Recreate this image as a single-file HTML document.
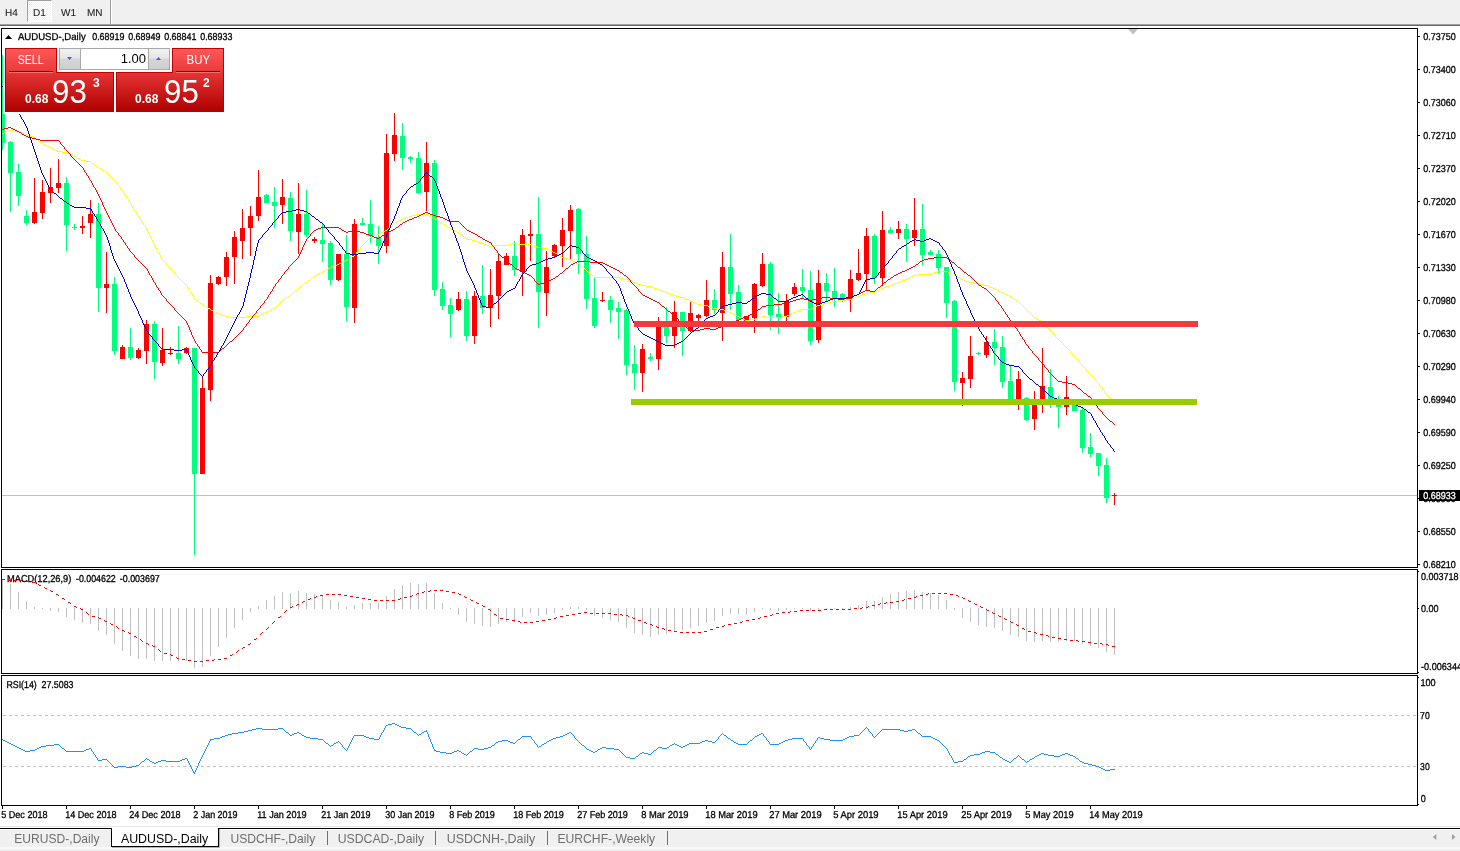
<!DOCTYPE html>
<html lang="en"><head><meta charset="utf-8"><title>AUDUSD-,Daily</title>
<style>
html,body{margin:0;padding:0;background:#fff;}
body{width:1460px;height:851px;overflow:hidden;position:relative;font-family:"Liberation Sans",sans-serif;}
#tb{position:absolute;left:0;top:0;width:1460px;height:24px;background:#f0f0f0;}
#tb .l1{position:absolute;left:0;top:24px;width:1460px;height:1px;background:#a0a0a0;}
#tb .l2{position:absolute;left:0;top:25px;width:1460px;height:1px;background:#696969;}
#tb span{position:absolute;top:8px;font-size:10px;line-height:12px;text-rendering:geometricPrecision;color:#1c1c1c;-webkit-text-stroke:0.08px #1c1c1c;}
#tb .sel{position:absolute;left:27px;top:0;width:25px;height:22px;box-sizing:border-box;border-top:1px solid #a0a0a0;border-left:1px solid #a0a0a0;border-right:1px solid #fff;border-bottom:1px solid #fff;background:repeating-conic-gradient(#ffffff 0% 25%,#f0f0f0 0% 50%) 0 0/2px 2px;}
#tb .sep{position:absolute;left:110px;top:0;width:1px;height:24px;background:#a0a0a0;border-right:1px solid #fff;}
#oc{position:absolute;left:5px;top:48px;width:219px;height:64px;}
#ocbg{position:absolute;left:3px;top:46px;width:223px;height:68px;background:#fff;}
#oc .tab{position:absolute;top:0;width:52px;height:25px;box-sizing:border-box;border:1px solid #c00000;border-bottom:none;background:linear-gradient(#ff5858,#e83838);color:#fff;font-size:12px;line-height:22px;text-align:center;}
#oc .tab i{position:absolute;left:3px;right:3px;bottom:0;height:1px;background:#7c0000;border-bottom:1px solid #f07070;}
#oc .tab em{display:inline-block;font-style:normal;transform:scaleX(0.88);}
#oc .pr{position:absolute;top:24px;height:40px;box-sizing:border-box;border:1px solid #b80000;border-top-color:#c00000;background:linear-gradient(#e43434,#b00000);color:#fff;}
#oc .pr b{position:absolute;font-size:12px;line-height:12px;font-weight:bold;}
#oc .pr .big{position:absolute;font-size:34px;line-height:34px;transform:scaleX(0.92);transform-origin:0 0;}
#oc .sp{position:absolute;left:54px;top:0;width:111px;height:22px;box-sizing:border-box;border:1px solid #a8a8a8;background:#fff;}
#oc .sp .bt{position:absolute;top:0;width:21px;height:20px;background:linear-gradient(#f2f2f2 0%,#e6e6e6 45%,#d6d6d6 50%,#cecece 100%);box-sizing:border-box;}
#oc .sp .v{position:absolute;right:23px;top:2px;font-size:13px;line-height:16px;color:#000;}
#bt{position:absolute;left:0;top:826px;width:1460px;height:25px;background:#f0f0f0;}
#bt .g0{position:absolute;left:0;top:0;width:1460px;height:1px;background:#e6e6e6;}
#bt .g1{position:absolute;left:0;top:1px;width:1460px;height:1px;background:#fff;}
#bt .bl{position:absolute;left:0;top:2px;width:1460px;height:1px;background:#000;}
#bt .hl{position:absolute;left:0;top:3px;width:1460px;height:1px;background:#fff;}
#bt .wl{position:absolute;left:0;top:21px;width:1460px;height:2px;background:#fafafa;}
#bt span{position:absolute;top:5px;font-size:12.5px;line-height:16px;color:#6e6e6e;white-space:nowrap;transform-origin:0 0;}
#bt .act{position:absolute;left:111px;top:2px;width:108px;height:19px;box-sizing:border-box;background:#fff;border:1px solid #000;border-top:none;box-shadow:1px 1px 0 #b4b4b4;}
#bt .sp{position:absolute;top:5px;width:1px;height:14px;background:#707070;}
</style></head><body>
<div id="tb"><div class="sel"></div><span style="left:5px">H4</span><span style="left:33px">D1</span><span style="left:61px">W1</span><span style="left:87px">MN</span><div class="sep"></div><div class="l1"></div><div class="l2"></div></div>
<svg width="1460" height="851" viewBox="0 0 1460 851" style="position:absolute;left:0;top:0" shape-rendering="crispEdges" font-family="'Liberation Sans', sans-serif" font-size="10px" fill="#000">
<svg x="2" y="29" width="1415" height="538" viewBox="2 29 1415 538" overflow="hidden">
<rect x="2" y="495" width="1415" height="1" fill="#c0c0c0"/>
<path fill="#00ff7f" d="M2 55h1v95h-1zM0 114h5v29h-5zM10 141h1v71h-1zM8 142h5v31h-5zM18 164h1v42h-1zM16 172h5v24h-5zM26 210h1v15h-1zM24 216h5v7h-5zM66 177h1v74h-1zM64 183h5v42h-5zM74 224h1v6h-1zM72 227h5v1h-5zM98 203h1v109h-1zM96 214h5v74h-5zM114 277h1v78h-1zM112 284h5v67h-5zM130 328h1v32h-1zM128 347h5v11h-5zM154 321h1v58h-1zM152 324h5v38h-5zM178 326h1v38h-1zM176 353h5v6h-5zM194 348h1v207h-1zM192 348h5v126h-5zM266 194h1v9h-1zM264 195h5v8h-5zM274 187h1v41h-1zM272 202h5v4h-5zM290 192h1v49h-1zM288 198h5v33h-5zM306 190h1v47h-1zM304 214h5v21h-5zM322 223h1v39h-1zM320 240h5v4h-5zM330 241h1v44h-1zM328 243h5v37h-5zM346 235h1v86h-1zM344 254h5v53h-5zM362 218h1v8h-1zM360 223h5v2h-5zM370 200h1v43h-1zM368 224h5v12h-5zM378 226h1v38h-1zM376 237h5v9h-5zM402 123h1v47h-1zM400 136h5v22h-5zM410 156h1v7h-1zM408 157h5v2h-5zM418 152h1v42h-1zM416 158h5v35h-5zM434 160h1v136h-1zM432 163h5v127h-5zM442 282h1v28h-1zM440 289h5v17h-5zM450 298h1v39h-1zM448 305h5v9h-5zM466 291h1v50h-1zM464 299h5v37h-5zM482 265h1v49h-1zM480 296h5v12h-5zM514 241h1v35h-1zM512 256h5v14h-5zM538 197h1v131h-1zM536 234h5v58h-5zM578 208h1v66h-1zM576 209h5v45h-5zM586 236h1v73h-1zM584 254h5v45h-5zM594 278h1v50h-1zM592 298h5v28h-5zM610 296h1v27h-1zM608 300h5v10h-5zM618 302h1v37h-1zM616 308h5v4h-5zM626 309h1v66h-1zM624 310h5v55h-5zM634 345h1v45h-1zM632 364h5v9h-5zM650 353h1v8h-1zM648 357h5v2h-5zM666 307h1v36h-1zM664 322h5v14h-5zM682 312h1v44h-1zM680 312h5v19h-5zM714 289h1v25h-1zM712 300h5v10h-5zM730 234h1v76h-1zM728 267h5v27h-5zM738 285h1v36h-1zM736 292h5v28h-5zM770 262h1v68h-1zM768 264h5v51h-5zM778 293h1v41h-1zM776 314h5v4h-5zM802 269h1v30h-1zM800 287h5v4h-5zM810 271h1v74h-1zM808 290h5v51h-5zM826 273h1v28h-1zM824 283h5v8h-5zM834 268h1v39h-1zM832 291h5v7h-5zM842 293h1v9h-1zM840 294h5v6h-5zM874 234h1v50h-1zM872 236h5v42h-5zM890 227h1v7h-1zM888 230h5v3h-5zM906 224h1v38h-1zM904 229h5v10h-5zM922 204h1v61h-1zM920 229h5v26h-5zM930 250h1v5h-1zM928 252h5v3h-5zM938 250h1v23h-1zM936 254h5v14h-5zM946 267h1v51h-1zM944 267h5v36h-5zM954 300h1v91h-1zM952 301h5v81h-5zM978 352h1v3h-1zM976 353h5v1h-5zM994 329h1v36h-1zM992 342h5v6h-5zM1002 336h1v52h-1zM1000 347h5v35h-5zM1010 366h1v35h-1zM1008 381h5v20h-5zM1026 397h1v24h-1zM1024 398h5v22h-5zM1050 369h1v39h-1zM1048 387h5v14h-5zM1058 396h1v32h-1zM1056 400h5v7h-5zM1074 403h1v8h-1zM1072 403h5v8h-5zM1082 407h1v46h-1zM1080 410h5v38h-5zM1090 433h1v24h-1zM1088 447h5v7h-5zM1098 453h1v23h-1zM1096 453h5v13h-5zM1106 458h1v45h-1zM1104 465h5v33h-5z"/>
<path fill="#ff0000" d="M34 178h1v46h-1zM32 212h5v11h-5zM42 180h1v39h-1zM40 192h5v21h-5zM50 168h1v35h-1zM48 187h5v6h-5zM58 159h1v34h-1zM56 183h5v5h-5zM82 216h1v18h-1zM80 226h5v2h-5zM90 200h1v38h-1zM88 214h5v9h-5zM106 252h1v61h-1zM104 284h5v4h-5zM122 345h1v14h-1zM120 347h5v12h-5zM138 348h1v11h-1zM136 350h5v8h-5zM146 320h1v44h-1zM144 324h5v27h-5zM162 328h1v38h-1zM160 350h5v13h-5zM170 347h1v8h-1zM168 353h5v1h-5zM186 347h1v7h-1zM184 348h5v5h-5zM202 376h1v98h-1zM200 388h5v86h-5zM210 275h1v126h-1zM208 283h5v107h-5zM218 276h1v9h-1zM216 277h5v7h-5zM226 252h1v34h-1zM224 257h5v20h-5zM234 231h1v53h-1zM232 237h5v20h-5zM242 209h1v50h-1zM240 228h5v13h-5zM250 206h1v50h-1zM248 216h5v12h-5zM258 170h1v51h-1zM256 197h5v19h-5zM282 179h1v45h-1zM280 197h5v8h-5zM298 183h1v71h-1zM296 214h5v18h-5zM314 237h1v6h-1zM312 239h5v2h-5zM338 254h1v27h-1zM336 254h5v26h-5zM354 219h1v104h-1zM352 224h5v84h-5zM386 134h1v119h-1zM384 153h5v93h-5zM394 113h1v48h-1zM392 135h5v19h-5zM426 142h1v69h-1zM424 163h5v29h-5zM458 292h1v19h-1zM456 299h5v11h-5zM474 291h1v53h-1zM472 296h5v40h-5zM490 269h1v58h-1zM488 295h5v13h-5zM498 253h1v66h-1zM496 261h5v35h-5zM506 253h1v12h-1zM504 256h5v9h-5zM522 229h1v67h-1zM520 235h5v37h-5zM530 220h1v41h-1zM528 234h5v2h-5zM546 251h1v65h-1zM544 267h5v26h-5zM554 244h1v13h-1zM552 245h5v11h-5zM562 218h1v49h-1zM560 230h5v16h-5zM570 205h1v54h-1zM568 210h5v21h-5zM602 292h1v10h-1zM600 300h5v1h-5zM642 344h1v48h-1zM640 349h5v24h-5zM658 317h1v53h-1zM656 326h5v33h-5zM674 301h1v47h-1zM672 312h5v24h-5zM690 302h1v30h-1zM688 313h5v18h-5zM698 314h1v7h-1zM696 315h5v3h-5zM706 280h1v37h-1zM704 300h5v16h-5zM722 252h1v89h-1zM720 267h5v46h-5zM746 316h1v5h-1zM744 316h5v5h-5zM754 283h1v50h-1zM752 284h5v34h-5zM762 253h1v34h-1zM760 264h5v22h-5zM786 294h1v28h-1zM784 301h5v16h-5zM794 283h1v13h-1zM792 287h5v7h-5zM818 270h1v73h-1zM816 283h5v57h-5zM850 270h1v42h-1zM848 279h5v20h-5zM858 249h1v32h-1zM856 273h5v7h-5zM866 228h1v63h-1zM864 236h5v38h-5zM882 211h1v75h-1zM880 230h5v48h-5zM898 221h1v18h-1zM896 229h5v4h-5zM914 198h1v48h-1zM912 230h5v8h-5zM962 372h1v34h-1zM960 378h5v5h-5zM970 336h1v52h-1zM968 356h5v23h-5zM986 336h1v22h-1zM984 342h5v13h-5zM1018 371h1v39h-1zM1016 379h5v22h-5zM1034 391h1v39h-1zM1032 403h5v16h-5zM1042 348h1v65h-1zM1040 386h5v15h-5zM1066 376h1v39h-1zM1064 397h5v10h-5zM1114 493h1v12h-1zM1112 495h5v1h-5z"/>
<path fill="#ffff00" d="m2 133h2v1h-2zm2-1h2v1h-2zm2-1h3v1h-3zm3-1h5v1h-5zm5 1h6v1h-6zm6 1h2v1h-2zm2 1h3v1h-3zm3 1h3v1h-3zm3 1h2v1h-2zm2 1h3v1h-3zm3 1h2v1h-2zm2 1h1v1h-1zm1 1h2v1h-2zm2 1h1v1h-1zm1 1h1v1h-1zm1 1h2v1h-2zm2 1h1v1h-1zm1 1h2v1h-2zm2 1h2v1h-2zm2 1h2v1h-2zm2 1h2v1h-2zm2 1h2v1h-2zm2 1h2v1h-2zm2 1h2v1h-2zm2 1h5v1h-5zm5 1h5v1h-5zm5 1h2v1h-2zm2 1h2v1h-2zm2 1h2v1h-2zm2 1h2v1h-2zm2 1h2v1h-2zm2 1h2v1h-2zm2 1h2v1h-2zm2 1h5v1h-5zm5 1h5v1h-5zm5 1h1v1h-1zm1 1h2v1h-2zm2 1h1v1h-1zm1 1h1v1h-1zm1 1h2v1h-2zm2 1h1v1h-1zm1 1h2v1h-2zm2 1h1v1h-1zm1 1h2v1h-2zm2 1h2v1h-2zm2 1h1v1h-1zm1 1h1v1h-1zm1 1h1v1h-1zm1 1h1v1h-1zm1 1h1v1h-1zm1 1h1v1h-1zm1 1h1v1h-1zm1 1h1v1h-1zm1 1h1v1h-1zm1 1h1v1h-1zm1 1h1v2h-1zm1 2h1v1h-1zm1 1h1v1h-1zm1 1h1v1h-1zm1 1h1v2h-1zm1 2h1v1h-1zm1 1h1v1h-1zm1 1h1v2h-1zm1 2h1v2h-1zm1 2h1v1h-1zm1 1h1v2h-1zm1 2h1v1h-1zm1 1h1v2h-1zm1 2h1v2h-1zm1 2h1v1h-1zm1 1h1v2h-1zm1 2h1v2h-1zm1 2h1v1h-1zm1 1h1v2h-1zm1 2h1v1h-1zm1 1h1v2h-1zm1 2h1v2h-1zm1 2h1v1h-1zm1 1h1v2h-1zm1 2h1v1h-1zm1 1h1v2h-1zm1 2h1v1h-1zm1 1h1v2h-1zm1 2h1v1h-1zm1 1h1v2h-1zm1 2h1v2h-1zm1 2h1v2h-1zm1 2h1v2h-1zm1 2h1v2h-1zm1 2h1v2h-1zm1 2h1v2h-1zm1 2h1v2h-1zm1 2h1v2h-1zm1 2h1v2h-1zm1 2h1v2h-1zm1 2h1v2h-1zm1 2h1v2h-1zm1 2h1v1h-1zm1 1h1v2h-1zm1 2h1v2h-1zm1 2h1v2h-1zm1 2h1v1h-1zm1 1h1v1h-1zm1 1h1v1h-1zm1 1h1v1h-1zm1 1h1v2h-1zm1 2h1v1h-1zm1 1h1v1h-1zm1 1h1v1h-1zm1 1h1v1h-1zm1 1h1v1h-1zm1 1h1v1h-1zm1 1h1v1h-1zm1 1h1v2h-1zm1 2h1v1h-1zm1 1h1v1h-1zm1 1h1v1h-1zm1 1h1v1h-1zm1 1h1v1h-1zm1 1h1v1h-1zm1 1h1v1h-1zm1 1h1v1h-1zm1 1h1v1h-1zm1 1h1v1h-1zm1 1h1v1h-1zm1 1h1v1h-1zm1 1h1v2h-1zm1 2h1v2h-1zm1 2h1v1h-1zm1 1h1v2h-1zm1 2h1v1h-1zm1 1h1v2h-1zm1 2h1v2h-1zm1 2h1v1h-1zm1 1h1v1h-1zm1 1h2v1h-2zm2 1h1v1h-1zm1 1h1v1h-1zm1 1h2v1h-2zm2 1h1v1h-1zm1 1h2v1h-2zm2 1h1v1h-1zm1 1h2v1h-2zm2 1h2v1h-2zm2 1h1v1h-1zm1 1h2v1h-2zm2 1h2v1h-2zm2 1h2v1h-2zm2 1h3v1h-3zm3 1h2v1h-2zm2 1h3v1h-3zm3 1h5v1h-5zm5 1h16v1h-16zm16-1h13v1h-13zm13-1h2v1h-2zm2-1h2v1h-2zm2-1h2v1h-2zm2-1h2v1h-2zm2-1h2v1h-2zm2-1h2v1h-2zm2-1h2v1h-2zm2-1h2v1h-2zm2-1h1v1h-1zm1-1h1v1h-1zm1-1h1v1h-1zm1-1h1v1h-1zm1-1h1v1h-1zm1-1h1v1h-1zm1-1h1v1h-1zm1-1h1v1h-1zm1-1h2v1h-2zm2-1h1v1h-1zm1-1h2v1h-2zm2-1h2v1h-2zm2-1h1v1h-1zm1-1h1v1h-1zm1-1h1v1h-1zm1-1h1v1h-1zm1-1h2v1h-2zm2-1h1v1h-1zm1-1h1v1h-1zm1-1h1v1h-1zm1-1h1v1h-1zm1-1h2v1h-2zm2-1h1v1h-1zm1-1h1v1h-1zm1-1h2v1h-2zm2-1h1v1h-1zm1-1h1v1h-1zm1-1h2v1h-2zm2-1h1v1h-1zm1-1h1v1h-1zm1-1h2v1h-2zm2-1h1v1h-1zm1-1h2v1h-2zm2-1h2v1h-2zm2-1h2v1h-2zm2-1h2v1h-2zm2-1h2v1h-2zm2-1h1v1h-1zm1-1h2v1h-2zm2-1h2v1h-2zm2-1h2v1h-2zm2-1h2v1h-2zm2-1h3v1h-3zm3-1h2v1h-2zm2-1h2v1h-2zm2-1h2v1h-2zm2-1h2v1h-2zm2-1h2v1h-2zm2-1h2v1h-2zm2-1h1v1h-1zm1-1h2v1h-2zm2-1h2v1h-2zm2-1h1v1h-1zm1-1h1v1h-1zm1-2h1v2h-1zm1-1h1v1h-1zm1-1h1v1h-1zm1-1h1v1h-1zm1-2h1v2h-1zm1-1h1v1h-1zm1-1h1v1h-1zm1-1h1v1h-1zm1-1h1v1h-1zm1-1h1v1h-1zm1-1h1v1h-1zm1-1h1v1h-1zm1-1h1v1h-1zm1-1h1v1h-1zm1-1h2v1h-2zm2-1h2v1h-2zm2-1h3v1h-3zm3-1h2v1h-2zm2-1h2v1h-2zm2-1h2v1h-2zm2-1h2v1h-2zm2-1h2v1h-2zm2-1h1v1h-1zm1-1h1v1h-1zm1-1h1v1h-1zm1-1h2v1h-2zm2-1h1v1h-1zm1-1h1v1h-1zm1-1h1v1h-1zm1-1h2v1h-2zm2-1h2v1h-2zm2-1h2v1h-2zm2-1h3v1h-3zm3-1h2v1h-2zm2-1h3v1h-3zm3-1h3v1h-3zm3-1h4v1h-4zm4-1h11v1h-11zm11 1h2v1h-2zm2 1h2v1h-2zm2 1h2v1h-2zm2 1h2v1h-2zm2 1h2v1h-2zm2 1h1v1h-1zm1 1h2v1h-2zm2 1h2v1h-2zm2 1h1v1h-1zm1 1h2v1h-2zm2 1h1v1h-1zm1 1h2v1h-2zm2 1h2v1h-2zm2 1h1v1h-1zm1 1h2v1h-2zm2 1h2v1h-2zm2 1h2v1h-2zm2 1h2v1h-2zm2 1h1v1h-1zm1 1h2v1h-2zm2 1h1v1h-1zm1 1h1v1h-1zm1 1h2v1h-2zm2 1h2v1h-2zm2 1h4v1h-4zm4 1h4v1h-4zm4 1h2v1h-2zm2 1h3v1h-3zm3 1h3v1h-3zm3 1h2v1h-2zm2 1h3v1h-3zm3 1h5v1h-5zm5-1h14v1h-14zm14-1h4v1h-4zm4-1h6v1h-6zm6 1h14v1h-14zm14 1h2v1h-2zm2 1h3v1h-3zm3 1h5v1h-5zm5 1h5v1h-5zm5 1h2v1h-2zm2 1h2v1h-2zm2 1h2v1h-2zm2 1h2v1h-2zm2 1h2v1h-2zm2 1h1v1h-1zm1 1h2v1h-2zm2 1h2v1h-2zm2 1h2v1h-2zm2 1h4v1h-4zm4 1h3v1h-3zm3 1h2v1h-2zm2 1h2v1h-2zm2 1h2v1h-2zm2 1h2v1h-2zm2 1h1v1h-1zm1 1h1v1h-1zm1 1h1v1h-1zm1 1h2v1h-2zm2 1h1v1h-1zm1 1h1v1h-1zm1 1h1v1h-1zm1 1h1v1h-1zm1 1h1v1h-1zm1 1h1v1h-1zm1 1h2v1h-2zm2 1h1v1h-1zm1 1h1v1h-1zm1 1h26v1h-26zm26 1h4v1h-4zm4 1h4v1h-4zm4 1h2v1h-2zm2 1h3v1h-3zm3 1h3v1h-3zm3 1h2v1h-2zm2 1h3v1h-3zm3 1h5v1h-5zm5 1h6v1h-6zm6 1h2v1h-2zm2 1h3v1h-3zm3 1h3v1h-3zm3 1h2v1h-2zm2 1h3v1h-3zm3 1h3v1h-3zm3 1h2v1h-2zm2 1h3v1h-3zm3 1h3v1h-3zm3 1h4v1h-4zm4 1h4v1h-4zm4 1h2v1h-2zm2 1h3v1h-3zm3 1h2v1h-2zm2 1h2v1h-2zm2 1h2v1h-2zm2 1h2v1h-2zm2 1h5v1h-5zm5 1h6v1h-6zm6 1h2v1h-2zm2 1h3v1h-3zm3 1h5v1h-5zm5 1h6v1h-6zm6 1h2v1h-2zm2 1h3v1h-3zm3 1h2v1h-2zm2 1h2v1h-2zm2 1h2v1h-2zm2 1h2v1h-2zm2 1h2v1h-2zm2 1h2v1h-2zm2 1h2v1h-2zm2 1h2v1h-2zm2 1h5v1h-5zm5-1h6v1h-6zm6-1h2v1h-2zm2-1h3v1h-3zm3-1h5v1h-5zm5 1h16v1h-16zm16-1h5v1h-5zm5-1h2v1h-2zm2-1h2v1h-2zm2-1h2v1h-2zm2-1h3v1h-3zm3-1h2v1h-2zm2-1h3v1h-3zm3-1h10v1h-10zm10-1h2v1h-2zm2-1h2v1h-2zm2-1h2v1h-2zm2-1h3v1h-3zm3-1h4v1h-4zm4-1h4v1h-4zm4-1h4v1h-4zm4-1h6v1h-6zm6-1h8v1h-8zm8-1h6v1h-6zm6-1h2v1h-2zm2-1h3v1h-3zm3-1h3v1h-3zm3-1h2v1h-2zm2-1h3v1h-3zm3-1h5v1h-5zm5-1h5v1h-5zm5-1h2v1h-2zm2-1h2v1h-2zm2-1h2v1h-2zm2-1h3v1h-3zm3-1h2v1h-2zm2-1h3v1h-3zm3-1h3v1h-3zm3-1h2v1h-2zm2-1h3v1h-3zm3-1h3v1h-3zm3-1h2v1h-2zm2-1h3v1h-3zm3-1h2v1h-2zm2-1h2v1h-2zm2-1h2v1h-2zm2-1h2v1h-2zm2-1h5v1h-5zm5-1h14v1h-14zm14-1h2v1h-2zm2-1h3v1h-3zm3-1h11v1h-11zm11 1h2v1h-2zm2 1h3v1h-3zm3 1h2v1h-2zm2 1h2v1h-2zm2 1h1v1h-1zm1 1h2v1h-2zm2 1h2v1h-2zm2 1h2v1h-2zm2 1h2v1h-2zm2 1h3v1h-3zm3 1h5v1h-5zm5 1h6v1h-6zm6 1h4v1h-4zm4 1h4v1h-4zm4 1h2v1h-2zm2 1h3v1h-3zm3 1h2v1h-2zm2 1h2v1h-2zm2 1h2v1h-2zm2 1h2v1h-2zm2 1h2v1h-2zm2 1h2v1h-2zm2 1h2v1h-2zm2 1h2v1h-2zm2 1h2v1h-2zm2 1h2v1h-2zm2 1h1v1h-1zm1 1h2v1h-2zm2 1h2v1h-2zm2 1h1v1h-1zm1 1h1v1h-1zm1 1h1v1h-1zm1 1h1v1h-1zm1 1h1v1h-1zm1 1h1v1h-1zm1 1h1v1h-1zm1 1h1v1h-1zm1 1h1v1h-1zm1 1h1v1h-1zm1 1h1v1h-1zm1 1h1v1h-1zm1 1h1v1h-1zm1 1h1v1h-1zm1 1h1v1h-1zm1 1h1v1h-1zm1 1h1v1h-1zm1 1h2v1h-2zm2 1h2v1h-2zm2 1h2v1h-2zm2 1h2v1h-2zm2 1h1v1h-1zm1 1h1v1h-1zm1 1h1v1h-1zm1 1h1v2h-1zm1 2h1v1h-1zm1 1h1v1h-1zm1 1h1v1h-1zm1 1h1v1h-1zm1 1h1v1h-1zm1 1h1v1h-1zm1 1h1v1h-1zm1 1h1v2h-1zm1 2h1v1h-1zm1 1h1v1h-1zm1 1h1v1h-1zm1 1h1v1h-1zm1 1h1v1h-1zm1 1h1v1h-1zm1 1h1v1h-1zm1 1h1v1h-1zm1 1h1v1h-1zm1 1h1v1h-1zm1 1h1v1h-1zm1 1h1v1h-1zm1 1h1v1h-1zm1 1h1v1h-1zm1 1h1v1h-1zm1 1h1v2h-1zm1 2h1v1h-1zm1 1h1v1h-1zm1 1h1v1h-1zm1 1h1v1h-1zm1 1h1v1h-1zm1 1h1v1h-1zm1 1h1v1h-1zm1 1h1v2h-1zm1 2h1v1h-1zm1 1h1v1h-1zm1 1h1v1h-1zm1 1h1v1h-1zm1 1h1v1h-1zm1 1h1v1h-1zm1 1h1v1h-1zm1 1h1v2h-1zm1 2h1v1h-1zm1 1h1v1h-1zm1 1h1v1h-1zm1 1h1v1h-1zm1 1h1v1h-1zm1 1h1v1h-1zm1 1h1v1h-1zm1 1h1v2h-1zm1 2h1v1h-1zm1 1h1v1h-1zm1 1h1v1h-1zm1 1h1v1h-1zm1 1h1v2h-1zm1 2h1v1h-1zm1 1h1v1h-1zm1 1h1v2h-1zm1 2h1v1h-1zm1 1h1v1h-1zm1 1h1v2h-1zm1 2h1v1h-1zm1 1h1v1h-1zm1 1h1v1h-1zm1 1h1v1h-1zm1 1h1v2h-1zm1 2h1v1h-1zm1 1h1v1h-1zm1 1h1v1h-1zm1 1h1v1h-1z"/>
<path fill="#ff0000" d="m2 129h2v1h-2zm2-1h4v1h-4zm4-1h3v1h-3zm3 1h2v1h-2zm2 1h2v1h-2zm2 1h2v1h-2zm2 1h2v1h-2zm2 1h2v1h-2zm2 1h1v1h-1zm1 1h2v1h-2zm2 1h2v1h-2zm2 1h2v1h-2zm2 1h4v1h-4zm4 1h4v1h-4zm4 1h4v1h-4zm4 1h19v1h-19zm19 1h1v1h-1zm1 1h1v2h-1zm1 2h1v1h-1zm1 1h1v1h-1zm1 1h1v1h-1zm1 1h1v2h-1zm1 2h1v1h-1zm1 1h1v1h-1zm1 1h1v1h-1zm1 1h1v1h-1zm1 1h1v1h-1zm1 1h1v2h-1zm1 2h1v1h-1zm1 1h1v1h-1zm1 1h1v1h-1zm1 1h1v1h-1zm1 1h1v1h-1zm1 1h1v1h-1zm1 1h1v1h-1zm1 1h1v1h-1zm1 1h1v1h-1zm1 1h1v1h-1zm1 1h1v1h-1zm1 1h1v1h-1zm1 1h1v2h-1zm1 2h1v2h-1zm1 2h1v1h-1zm1 1h1v2h-1zm1 2h1v1h-1zm1 1h1v2h-1zm1 2h1v2h-1zm1 2h1v1h-1zm1 1h1v2h-1zm1 2h1v2h-1zm1 2h1v2h-1zm1 2h1v1h-1zm1 1h1v2h-1zm1 2h1v2h-1zm1 2h1v2h-1zm1 2h1v2h-1zm1 2h1v2h-1zm1 2h1v2h-1zm1 2h1v2h-1zm1 2h1v3h-1zm1 3h1v2h-1zm1 2h1v2h-1zm1 2h1v2h-1zm1 2h1v2h-1zm1 2h1v2h-1zm1 2h1v2h-1zm1 2h1v2h-1zm1 2h1v2h-1zm1 2h1v2h-1zm1 2h1v2h-1zm1 2h1v2h-1zm1 2h1v2h-1zm1 2h1v2h-1zm1 2h1v1h-1zm1 1h1v1h-1zm1 1h1v2h-1zm1 2h1v1h-1zm1 1h1v1h-1zm1 1h1v2h-1zm1 2h1v1h-1zm1 1h1v2h-1zm1 2h1v1h-1zm1 1h1v2h-1zm1 2h1v1h-1zm1 1h1v2h-1zm1 2h1v1h-1zm1 1h1v2h-1zm1 2h1v1h-1zm1 1h1v1h-1zm1 1h1v1h-1zm1 1h1v1h-1zm1 1h1v2h-1zm1 2h1v1h-1zm1 1h1v1h-1zm1 1h1v1h-1zm1 1h1v1h-1zm1 1h1v1h-1zm1 1h1v1h-1zm1 1h1v1h-1zm1 1h1v1h-1zm1 1h1v1h-1zm1 1h1v1h-1zm1 1h1v1h-1zm1 1h1v1h-1zm1 1h1v2h-1zm1 2h1v2h-1zm1 2h1v2h-1zm1 2h1v1h-1zm1 1h1v2h-1zm1 2h1v2h-1zm1 2h1v2h-1zm1 2h1v1h-1zm1 1h1v2h-1zm1 2h1v2h-1zm1 2h1v1h-1zm1 1h1v2h-1zm1 2h1v1h-1zm1 1h1v2h-1zm1 2h1v2h-1zm1 2h1v1h-1zm1 1h1v1h-1zm1 1h1v1h-1zm1 1h1v1h-1zm1 1h1v2h-1zm1 2h1v1h-1zm1 1h1v1h-1zm1 1h1v1h-1zm1 1h1v1h-1zm1 1h1v1h-1zm1 1h1v1h-1zm1 1h1v1h-1zm1 1h1v2h-1zm1 2h1v1h-1zm1 1h1v1h-1zm1 1h1v1h-1zm1 1h1v1h-1zm1 1h1v1h-1zm1 1h1v1h-1zm1 1h1v1h-1zm1 1h1v1h-1zm1 1h1v1h-1zm1 1h1v1h-1zm1 1h1v1h-1zm1 1h1v2h-1zm1 2h1v2h-1zm1 2h1v2h-1zm1 2h1v3h-1zm1 3h1v2h-1zm1 2h1v3h-1zm1 3h1v2h-1zm1 2h1v2h-1zm1 2h1v2h-1zm1 2h1v2h-1zm1 2h1v1h-1zm1 1h1v2h-1zm1 2h1v1h-1zm1 1h1v2h-1zm1 2h1v1h-1zm1 1h1v2h-1zm1 2h17v1h-17zm17-1h1v1h-1zm1-1h1v1h-1zm1-1h1v1h-1zm1-1h2v1h-2zm2-1h1v1h-1zm1-1h1v1h-1zm1-1h1v1h-1zm1-1h1v1h-1zm1-1h1v1h-1zm1-1h1v1h-1zm1-1h2v1h-2zm2-1h1v1h-1zm1-1h1v1h-1zm1-1h1v1h-1zm1-1h1v1h-1zm1-1h1v1h-1zm1-1h1v1h-1zm1-1h1v1h-1zm1-1h1v1h-1zm1-1h1v1h-1zm1-1h1v1h-1zm1-1h1v1h-1zm1-2h1v2h-1zm1-1h1v1h-1zm1-1h1v1h-1zm1-2h1v2h-1zm1-1h1v1h-1zm1-1h1v1h-1zm1-2h1v2h-1zm1-1h1v1h-1zm1-1h1v1h-1zm1-2h1v2h-1zm1-1h1v1h-1zm1-1h1v1h-1zm1-1h1v1h-1zm1-2h1v2h-1zm1-1h1v1h-1zm1-1h1v1h-1zm1-1h1v1h-1zm1-2h1v2h-1zm1-1h1v1h-1zm1-1h1v1h-1zm1-1h1v1h-1zm1-2h1v2h-1zm1-1h1v1h-1zm1-1h1v1h-1zm1-2h1v2h-1zm1-2h1v2h-1zm1-1h1v1h-1zm1-2h1v2h-1zm1-1h1v1h-1zm1-2h1v2h-1zm1-2h1v2h-1zm1-1h1v1h-1zm1-2h1v2h-1zm1-1h1v1h-1zm1-1h1v1h-1zm1-2h1v2h-1zm1-1h1v1h-1zm1-1h1v1h-1zm1-2h1v2h-1zm1-1h1v1h-1zm1-1h1v1h-1zm1-2h1v2h-1zm1-1h1v1h-1zm1-1h1v1h-1zm1-1h1v1h-1zm1-2h1v2h-1zm1-1h1v1h-1zm1-1h1v1h-1zm1-1h1v1h-1zm1-1h1v1h-1zm1-1h1v1h-1zm1-1h1v1h-1zm1-1h1v1h-1zm1-1h1v1h-1zm1-1h1v1h-1zm1-2h1v2h-1zm1-2h1v2h-1zm1-2h1v2h-1zm1-2h1v2h-1zm1-3h1v3h-1zm1-2h1v2h-1zm1-2h1v2h-1zm1-2h1v2h-1zm1-2h1v2h-1zm1-1h1v1h-1zm1-1h1v1h-1zm1-1h1v1h-1zm1-2h1v2h-1zm1-1h1v1h-1zm1-1h1v1h-1zm1-1h1v1h-1zm1-1h2v1h-2zm2-1h2v1h-2zm2-1h3v1h-3zm3-1h18v1h-18zm18 1h2v1h-2zm2 1h1v1h-1zm1 1h2v1h-2zm2 1h2v1h-2zm2 1h2v1h-2zm2-1h4v1h-4zm4-1h4v1h-4zm4 1h4v1h-4zm4 1h4v1h-4zm4 1h2v1h-2zm2 1h3v1h-3zm3 1h3v1h-3zm3 1h2v1h-2zm2 1h3v1h-3zm3 1h2v1h-2zm2-1h2v1h-2zm2-1h1v1h-1zm1-1h2v1h-2zm2-1h2v1h-2zm2-1h1v1h-1zm1-1h2v1h-2zm2-1h2v1h-2zm2-1h2v1h-2zm2-1h2v1h-2zm2-1h1v1h-1zm1-1h2v1h-2zm2-1h1v1h-1zm1-1h1v1h-1zm1-1h2v1h-2zm2-1h1v1h-1zm1-1h2v1h-2zm2-1h2v1h-2zm2-1h2v1h-2zm2-1h3v1h-3zm3-1h2v1h-2zm2-1h3v1h-3zm3-1h2v1h-2zm2-1h2v1h-2zm2-1h2v1h-2zm2-1h2v1h-2zm2-1h3v1h-3zm3 1h2v1h-2zm2 1h3v1h-3zm3 1h3v1h-3zm3 1h4v1h-4zm4 1h3v1h-3zm3 1h2v1h-2zm2 1h2v1h-2zm2 1h2v1h-2zm2 1h10v1h-10zm10 1h1v1h-1zm1 1h1v1h-1zm1 1h1v1h-1zm1 1h1v1h-1zm1 1h1v1h-1zm1 1h1v1h-1zm1 1h1v1h-1zm1 1h1v1h-1zm1 1h2v1h-2zm2 1h2v1h-2zm2 1h2v1h-2zm2 1h2v1h-2zm2 1h2v1h-2zm2 1h1v1h-1zm1 1h2v1h-2zm2 1h2v1h-2zm2 1h1v1h-1zm1 1h2v1h-2zm2 1h2v1h-2zm2 1h2v1h-2zm2 1h2v1h-2zm2 1h1v2h-1zm1 2h1v1h-1zm1 1h1v1h-1zm1 1h1v2h-1zm1 2h1v1h-1zm1 1h1v1h-1zm1 1h1v2h-1zm1 2h1v1h-1zm1 1h1v1h-1zm1 1h1v1h-1zm1 1h1v1h-1zm1 1h2v1h-2zm2 1h1v1h-1zm1 1h1v1h-1zm1 1h1v1h-1zm1 1h1v1h-1zm1 1h1v1h-1zm1 1h1v1h-1zm1 1h2v1h-2zm2 1h1v1h-1zm1 1h1v1h-1zm1 1h1v1h-1zm1 1h2v1h-2zm2 1h2v1h-2zm2 1h2v1h-2zm2 1h2v1h-2zm2 1h2v1h-2zm2 1h2v1h-2zm2 1h2v1h-2zm2 1h2v1h-2zm2 1h1v1h-1zm1 1h1v1h-1zm1 1h1v1h-1zm1 1h1v2h-1zm1 2h1v1h-1zm1 1h1v1h-1zm1 1h1v1h-1zm1 1h2v1h-2zm2-1h4v1h-4zm4-1h3v1h-3zm3-1h2v1h-2zm2-1h2v1h-2zm2-1h2v1h-2zm2-1h2v1h-2zm2-1h1v1h-1zm1-1h2v1h-2zm2-1h1v1h-1zm1-1h1v1h-1zm1-1h2v1h-2zm2-1h1v1h-1zm1-1h1v1h-1zm1-1h1v1h-1zm1-1h1v1h-1zm1-1h2v1h-2zm2-1h1v1h-1zm1-1h1v1h-1zm1-1h1v1h-1zm1-1h2v1h-2zm2-1h2v1h-2zm2-1h2v1h-2zm2-1h13v1h-13zm13 1h13v1h-13zm13 1h2v1h-2zm2 1h2v1h-2zm2 1h2v1h-2zm2 1h2v1h-2zm2 1h2v1h-2zm2 1h2v1h-2zm2 1h2v1h-2zm2 1h2v1h-2zm2 1h1v1h-1zm1 1h2v1h-2zm2 1h1v1h-1zm1 1h1v1h-1zm1 1h2v1h-2zm2 1h1v1h-1zm1 1h1v1h-1zm1 1h1v1h-1zm1 1h1v1h-1zm1 1h1v2h-1zm1 2h1v1h-1zm1 1h1v1h-1zm1 1h1v1h-1zm1 1h1v1h-1zm1 1h1v1h-1zm1 1h1v1h-1zm1 1h1v1h-1zm1 1h1v2h-1zm1 2h1v1h-1zm1 1h1v1h-1zm1 1h1v1h-1zm1 1h1v1h-1zm1 1h2v1h-2zm2 1h2v1h-2zm2 1h2v1h-2zm2 1h2v1h-2zm2 1h2v1h-2zm2 1h2v1h-2zm2 1h2v1h-2zm2 1h2v1h-2zm2 1h1v1h-1zm1 1h1v1h-1zm1 1h1v1h-1zm1 1h2v1h-2zm2 1h1v1h-1zm1 1h1v1h-1zm1 1h1v1h-1zm1 1h1v1h-1zm1 1h2v1h-2zm2 1h1v1h-1zm1 1h1v1h-1zm1 1h2v1h-2zm2 1h1v1h-1zm1 1h1v1h-1zm1 1h1v1h-1zm1 1h1v1h-1zm1 1h1v2h-1zm1 2h1v1h-1zm1 1h1v1h-1zm1 1h1v1h-1zm1 1h1v1h-1zm1 1h1v1h-1zm1 1h2v1h-2zm2 1h1v1h-1zm1 1h1v1h-1zm1 1h2v1h-2zm2 1h10v1h-10zm10-1h4v1h-4zm4-1h6v1h-6zm6 1h6v1h-6zm6-1h2v1h-2zm2-1h3v1h-3zm3-1h2v1h-2zm2-1h2v1h-2zm2-1h2v1h-2zm2-1h2v1h-2zm2-1h3v1h-3zm3-1h4v1h-4zm4-1h3v1h-3zm3-1h2v1h-2zm2-1h2v1h-2zm2-1h2v1h-2zm2-1h3v1h-3zm3-1h2v1h-2zm2-1h3v1h-3zm3-1h2v1h-2zm2-1h1v1h-1zm1-1h1v1h-1zm1-1h1v1h-1zm1-1h2v1h-2zm2-1h1v1h-1zm1-1h1v1h-1zm1-1h4v1h-4zm4-1h8v1h-8zm8-1h8v1h-8zm8-1h6v1h-6zm6-1h2v1h-2zm2-1h3v1h-3zm3-1h3v1h-3zm3-1h4v1h-4zm4-1h4v1h-4zm4 1h4v1h-4zm4 1h4v1h-4zm4-1h4v1h-4zm4-1h6v1h-6zm6-1h8v1h-8zm8 1h8v1h-8zm8 1h6v1h-6zm6-1h4v1h-4zm4-1h4v1h-4zm4-1h2v1h-2zm2-1h3v1h-3zm3-1h2v1h-2zm2-1h2v1h-2zm2-1h2v1h-2zm2-1h2v1h-2zm2-1h5v1h-5zm5 1h5v1h-5zm5-1h1v1h-1zm1-1h1v1h-1zm1-1h1v1h-1zm1-1h2v1h-2zm2-1h1v1h-1zm1-1h1v1h-1zm1-1h1v1h-1zm1-1h1v1h-1zm1-1h2v1h-2zm2-1h1v1h-1zm1-1h1v1h-1zm1-1h2v1h-2zm2-1h1v1h-1zm1-1h2v1h-2zm2-1h1v1h-1zm1-1h2v1h-2zm2-1h2v1h-2zm2-1h2v1h-2zm2-1h2v1h-2zm2-1h3v1h-3zm3-1h2v1h-2zm2-1h2v1h-2zm2-1h2v1h-2zm2-1h2v1h-2zm2-1h2v1h-2zm2-1h1v1h-1zm1-1h2v1h-2zm2-1h1v1h-1zm1-1h1v1h-1zm1-1h2v1h-2zm2-1h2v1h-2zm2-1h4v1h-4zm4-1h6v1h-6zm6-1h13v1h-13zm13 1h1v1h-1zm1 1h2v1h-2zm2 1h1v1h-1zm1 1h1v1h-1zm1 1h2v1h-2zm2 1h1v1h-1zm1 1h1v1h-1zm1 1h1v1h-1zm1 1h1v1h-1zm1 1h2v1h-2zm2 1h1v1h-1zm1 1h1v1h-1zm1 1h1v1h-1zm1 1h1v1h-1zm1 1h2v1h-2zm2 1h1v1h-1zm1 1h1v1h-1zm1 1h2v1h-2zm2 1h1v1h-1zm1 1h1v1h-1zm1 1h1v1h-1zm1 1h1v1h-1zm1 1h1v1h-1zm1 1h1v1h-1zm1 1h1v1h-1zm1 1h1v1h-1zm1 1h1v1h-1zm1 1h2v1h-2zm2 1h1v1h-1zm1 1h2v1h-2zm2 1h2v1h-2zm2 1h1v1h-1zm1 1h1v1h-1zm1 1h1v1h-1zm1 1h1v1h-1zm1 1h1v1h-1zm1 1h1v1h-1zm1 1h1v1h-1zm1 1h1v1h-1zm1 1h1v1h-1zm1 1h1v2h-1zm1 2h1v1h-1zm1 1h1v1h-1zm1 1h1v2h-1zm1 2h1v1h-1zm1 1h1v1h-1zm1 1h1v2h-1zm1 2h1v1h-1zm1 1h1v2h-1zm1 2h1v1h-1zm1 1h1v2h-1zm1 2h1v1h-1zm1 1h1v2h-1zm1 2h1v1h-1zm1 1h1v2h-1zm1 2h1v1h-1zm1 1h1v2h-1zm1 2h1v1h-1zm1 1h1v1h-1zm1 1h1v2h-1zm1 2h1v1h-1zm1 1h1v1h-1zm1 1h1v2h-1zm1 2h1v1h-1zm1 1h1v2h-1zm1 2h1v2h-1zm1 2h1v1h-1zm1 1h1v2h-1zm1 2h1v1h-1zm1 1h1v2h-1zm1 2h1v2h-1zm1 2h1v1h-1zm1 1h1v1h-1zm1 1h1v2h-1zm1 2h1v1h-1zm1 1h1v1h-1zm1 1h1v1h-1zm1 1h1v2h-1zm1 2h1v1h-1zm1 1h1v1h-1zm1 1h1v1h-1zm1 1h1v1h-1zm1 1h1v1h-1zm1 1h1v2h-1zm1 2h1v1h-1zm1 1h1v1h-1zm1 1h1v1h-1zm1 1h1v1h-1zm1 1h1v1h-1zm1 1h1v2h-1zm1 2h1v1h-1zm1 1h1v1h-1zm1 1h1v1h-1zm1 1h1v2h-1zm1 2h1v1h-1zm1 1h1v1h-1zm1 1h1v1h-1zm1 1h1v1h-1zm1 1h1v1h-1zm1 1h1v1h-1zm1 1h1v1h-1zm1 1h1v1h-1zm1 1h1v1h-1zm1 1h4v1h-4zm4 1h6v1h-6zm6 1h4v1h-4zm4 1h3v1h-3zm3 1h1v1h-1zm1 1h1v1h-1zm1 1h1v1h-1zm1 1h2v1h-2zm2 1h1v1h-1zm1 1h1v1h-1zm1 1h1v1h-1zm1 1h1v1h-1zm1 1h2v1h-2zm2 1h1v1h-1zm1 1h1v1h-1zm1 1h2v1h-2zm2 1h1v1h-1zm1 1h1v2h-1zm1 2h1v1h-1zm1 1h1v1h-1zm1 1h1v2h-1zm1 2h1v1h-1zm1 1h1v1h-1zm1 1h1v2h-1zm1 2h1v1h-1zm1 1h1v1h-1zm1 1h1v1h-1zm1 1h1v1h-1zm1 1h1v2h-1zm1 2h1v1h-1zm1 1h1v1h-1zm1 1h1v1h-1zm1 1h1v1h-1zm1 1h1v1h-1zm1 1h1v1h-1zm1 1h1v1h-1zm1 1h2v1h-2zm2 1h1v1h-1zm1 1h1v1h-1zm1 1h1v1h-1z"/>
<path fill="#0000cd" d="m2 86h1v1h-1zm1 1h1v2h-1zm1 2h1v2h-1zm1 2h1v1h-1zm1 1h1v2h-1zm1 2h1v1h-1zm1 1h1v2h-1zm1 2h1v2h-1zm1 2h1v1h-1zm1 1h1v2h-1zm1 2h1v2h-1zm1 2h1v1h-1zm1 1h1v2h-1zm1 2h1v1h-1zm1 1h1v2h-1zm1 2h1v2h-1zm1 2h1v1h-1zm1 1h1v2h-1zm1 2h1v2h-1zm1 2h1v2h-1zm1 2h1v1h-1zm1 1h1v2h-1zm1 2h1v2h-1zm1 2h1v2h-1zm1 2h1v2h-1zm1 2h1v3h-1zm1 3h1v3h-1zm1 3h1v3h-1zm1 3h1v3h-1zm1 3h1v3h-1zm1 3h1v3h-1zm1 3h1v3h-1zm1 3h1v3h-1zm1 3h1v3h-1zm1 3h1v3h-1zm1 3h1v3h-1zm1 3h1v3h-1zm1 3h1v3h-1zm1 3h1v3h-1zm1 3h1v3h-1zm1 3h1v2h-1zm1 2h1v2h-1zm1 2h1v2h-1zm1 2h1v2h-1zm1 2h1v2h-1zm1 2h1v2h-1zm1 2h1v2h-1zm1 2h1v2h-1zm1 2h1v1h-1zm1 1h1v1h-1zm1 1h1v1h-1zm1 1h1v1h-1zm1 1h2v1h-2zm2 1h1v1h-1zm1 1h1v1h-1zm1 1h1v1h-1zm1 1h1v1h-1zm1 1h2v1h-2zm2 1h1v1h-1zm1 1h1v1h-1zm1 1h2v1h-2zm2 1h1v1h-1zm1 1h2v1h-2zm2 1h1v1h-1zm1 1h2v1h-2zm2 1h2v1h-2zm2 1h12v1h-12zm12 1h5v1h-5zm5 1h1v2h-1zm1 2h1v2h-1zm1 2h1v1h-1zm1 1h1v2h-1zm1 2h1v1h-1zm1 1h1v2h-1zm1 2h1v2h-1zm1 2h1v1h-1zm1 1h1v2h-1zm1 2h1v2h-1zm1 2h1v2h-1zm1 2h1v1h-1zm1 1h1v2h-1zm1 2h1v2h-1zm1 2h1v2h-1zm1 2h1v2h-1zm1 2h1v3h-1zm1 3h1v3h-1zm1 3h1v3h-1zm1 3h1v4h-1zm1 4h1v3h-1zm1 3h1v3h-1zm1 3h1v3h-1zm1 3h1v2h-1zm1 2h1v2h-1zm1 2h1v2h-1zm1 2h1v2h-1zm1 2h1v2h-1zm1 2h1v2h-1zm1 2h1v2h-1zm1 2h1v2h-1zm1 2h1v2h-1zm1 2h1v2h-1zm1 2h1v3h-1zm1 3h1v2h-1zm1 2h1v3h-1zm1 3h1v2h-1zm1 2h1v3h-1zm1 3h1v2h-1zm1 2h1v3h-1zm1 3h1v2h-1zm1 2h1v2h-1zm1 2h1v2h-1zm1 2h1v2h-1zm1 2h1v2h-1zm1 2h1v2h-1zm1 2h1v2h-1zm1 2h1v3h-1zm1 3h1v2h-1zm1 2h1v2h-1zm1 2h1v2h-1zm1 2h1v3h-1zm1 3h1v2h-1zm1 2h1v2h-1zm1 2h1v2h-1zm1 2h1v2h-1zm1 2h1v1h-1zm1 1h1v2h-1zm1 2h1v1h-1zm1 1h1v1h-1zm1 1h1v1h-1zm1 1h1v2h-1zm1 2h1v1h-1zm1 1h1v1h-1zm1 1h1v1h-1zm1 1h1v1h-1zm1 1h1v1h-1zm1 1h1v2h-1zm1 2h1v1h-1zm1 1h1v1h-1zm1 1h1v1h-1zm1 1h12v1h-12zm12 1h8v1h-8zm8-1h5v1h-5zm4 1h1v1h-1zm1 1h1v2h-1zm1 2h1v2h-1zm1 2h1v2h-1zm1 2h1v3h-1zm1 3h1v2h-1zm1 2h1v2h-1zm1 2h1v2h-1zm1 2h1v2h-1zm1 2h1v1h-1zm1 1h1v1h-1zm1 1h1v1h-1zm1 1h1v2h-1zm1 2h1v1h-1zm1 1h1v1h-1zm1 1h1v1h-1zm1 1h1v1h-1zm1-2h1v2h-1zm1-1h1v1h-1zm1-1h1v1h-1zm1-2h1v2h-1zm1-1h1v1h-1zm1-1h1v1h-1zm1-2h1v2h-1zm1-1h1v1h-1zm1-2h1v2h-1zm1-2h1v2h-1zm1-1h1v1h-1zm1-2h1v2h-1zm1-1h1v1h-1zm1-2h1v2h-1zm1-2h1v2h-1zm1-1h1v1h-1zm1-2h1v2h-1zm1-2h1v2h-1zm1-2h1v2h-1zm1-1h1v1h-1zm1-2h1v2h-1zm1-2h1v2h-1zm1-2h1v2h-1zm1-2h1v2h-1zm1-2h1v2h-1zm1-2h1v2h-1zm1-2h1v2h-1zm1-2h1v2h-1zm1-2h1v2h-1zm1-2h1v2h-1zm1-2h1v2h-1zm1-2h1v2h-1zm1-2h1v2h-1zm1-2h1v2h-1zm1-2h1v2h-1zm1-1h1v1h-1zm1-2h1v2h-1zm1-2h1v2h-1zm1-2h1v2h-1zm1-2h1v2h-1zm1-4h1v4h-1zm1-4h1v4h-1zm1-4h1v4h-1zm1-4h1v4h-1zm1-4h1v4h-1zm1-4h1v4h-1zm1-4h1v4h-1zm1-5h1v5h-1zm1-4h1v4h-1zm1-4h1v4h-1zm1-5h1v5h-1zm1-4h1v4h-1zm1-5h1v5h-1zm1-4h1v4h-1zm1-4h1v4h-1zm1-3h1v3h-1zm1-1h1v1h-1zm1-1h1v1h-1zm1-1h1v1h-1zm1-2h1v2h-1zm1-1h1v1h-1zm1-1h1v1h-1zm1-1h1v1h-1zm1-1h1v1h-1zm1-1h1v1h-1zm1-2h1v2h-1zm1-1h1v1h-1zm1-1h1v1h-1zm1-1h1v1h-1zm1-2h1v2h-1zm1-1h1v1h-1zm1-1h1v1h-1zm1-1h1v1h-1zm1-1h1v1h-1zm1-1h1v1h-1zm1-2h1v2h-1zm1-1h1v1h-1zm1-1h1v1h-1zm1-1h1v1h-1zm1-1h4v1h-4zm4-1h6v1h-6zm6-1h4v1h-4zm4-1h4v1h-4zm4 1h4v1h-4zm4 1h3v1h-3zm3 1h1v1h-1zm1 1h2v1h-2zm2 1h1v1h-1zm1 1h1v1h-1zm1 1h2v1h-2zm2 1h1v1h-1zm1 1h1v1h-1zm1 1h2v1h-2zm2 1h1v1h-1zm1 1h1v1h-1zm1 1h2v1h-2zm2 1h1v1h-1zm1 1h1v1h-1zm1 1h1v2h-1zm1 2h1v1h-1zm1 1h1v1h-1zm1 1h1v1h-1zm1 1h1v2h-1zm1 2h1v1h-1zm1 1h1v1h-1zm1 1h1v1h-1zm1 1h1v1h-1zm1 1h1v1h-1zm1 1h1v2h-1zm1 2h1v1h-1zm1 1h1v1h-1zm1 1h1v1h-1zm1 1h1v1h-1zm1 1h1v2h-1zm1 2h1v1h-1zm1 1h1v1h-1zm1 1h1v2h-1zm1 2h1v1h-1zm1 1h1v1h-1zm1 1h1v2h-1zm1 2h4v1h-4zm4 1h8v1h-8zm8-1h8v1h-8zm8-1h8v1h-8zm8 1h5v1h-5zm4-1h1v1h-1zm1-2h1v2h-1zm1-2h1v2h-1zm1-2h1v2h-1zm1-3h1v3h-1zm1-2h1v2h-1zm1-2h1v2h-1zm1-2h1v2h-1zm1-3h1v3h-1zm1-2h1v2h-1zm1-2h1v2h-1zm1-2h1v2h-1zm1-3h1v3h-1zm1-2h1v2h-1zm1-2h1v2h-1zm1-2h1v2h-1zm1-3h1v3h-1zm1-2h1v2h-1zm1-3h1v3h-1zm1-3h1v3h-1zm1-2h1v2h-1zm1-3h1v3h-1zm1-3h1v3h-1zm1-2h1v2h-1zm1-2h1v2h-1zm1-1h1v1h-1zm1-1h1v1h-1zm1-1h1v1h-1zm1-2h1v2h-1zm1-1h1v1h-1zm1-1h1v1h-1zm1-1h1v1h-1zm1-1h1v1h-1zm1-1h2v1h-2zm2-1h1v1h-1zm1-1h2v1h-2zm2-1h2v1h-2zm2-1h1v1h-1zm1-1h1v1h-1zm1-2h1v2h-1zm1-1h1v1h-1zm1-1h1v1h-1zm1-1h1v1h-1zm1-2h1v2h-1zm1-1h1v1h-1zm1-1h1v1h-1zm1 1h1v1h-1zm1 1h1v1h-1zm1 1h1v1h-1zm1 1h2v1h-2zm2 1h1v1h-1zm1 1h1v1h-1zm1 1h1v2h-1zm1 2h1v2h-1zm1 2h1v3h-1zm1 3h1v3h-1zm1 3h1v2h-1zm1 2h1v3h-1zm1 3h1v3h-1zm1 3h1v2h-1zm1 2h1v3h-1zm1 3h1v3h-1zm1 3h1v3h-1zm1 3h1v3h-1zm1 3h1v2h-1zm1 2h1v3h-1zm1 3h1v3h-1zm1 3h1v3h-1zm1 3h1v3h-1zm1 3h1v2h-1zm1 2h1v3h-1zm1 3h1v3h-1zm1 3h1v2h-1zm1 2h1v3h-1zm1 3h1v3h-1zm1 3h1v2h-1zm1 2h1v3h-1zm1 3h1v3h-1zm1 3h1v3h-1zm1 3h1v3h-1zm1 3h1v4h-1zm1 4h1v3h-1zm1 3h1v3h-1zm1 3h1v3h-1zm1 3h1v3h-1zm1 3h1v2h-1zm1 2h1v2h-1zm1 2h1v2h-1zm1 2h1v2h-1zm1 2h1v2h-1zm1 2h1v2h-1zm1 2h1v2h-1zm1 2h1v3h-1zm1 3h1v2h-1zm1 2h1v3h-1zm1 3h1v2h-1zm1 2h1v3h-1zm1 3h1v2h-1zm1 2h1v3h-1zm1 3h1v2h-1zm1 2h1v1h-1zm0 1h4v1h-4zm4 1h5v1h-5zm5-1h1v1h-1zm1-1h1v1h-1zm1-1h1v1h-1zm1-1h2v1h-2zm2-1h1v1h-1zm1-1h1v1h-1zm1-1h1v1h-1zm1-1h1v1h-1zm1-1h1v1h-1zm1-1h1v1h-1zm1-1h1v1h-1zm1-1h1v1h-1zm1-1h1v1h-1zm1-1h1v1h-1zm1-1h1v1h-1zm1-1h2v1h-2zm2-1h2v1h-2zm2-1h2v1h-2zm2-1h2v1h-2zm2-2h1v2h-1zm1-2h1v2h-1zm1-2h1v2h-1zm1-1h1v1h-1zm1-2h1v2h-1zm1-2h1v2h-1zm1-2h1v2h-1zm1-1h1v1h-1zm1-1h1v1h-1zm1-1h1v1h-1zm1-1h1v1h-1zm1-2h1v2h-1zm1-1h1v1h-1zm1-1h1v1h-1zm1-1h1v1h-1zm1-1h2v1h-2zm2-1h4v1h-4zm4-1h3v1h-3zm3-1h2v1h-2zm2-1h2v1h-2zm2-1h2v1h-2zm2-1h3v1h-3zm3-1h4v1h-4zm4-1h3v1h-3zm3-1h2v1h-2zm2-1h2v1h-2zm2-1h2v1h-2zm2-1h2v1h-2zm2-1h1v1h-1zm1-1h1v1h-1zm1-1h1v1h-1zm1-1h1v1h-1zm1-1h1v1h-1zm1-1h1v1h-1zm1-1h1v1h-1zm1-1h2v1h-2zm2 1h4v1h-4zm4 1h3v1h-3zm3 1h1v1h-1zm1 1h1v1h-1zm1 1h1v1h-1zm1 1h1v2h-1zm1 2h1v1h-1zm1 1h1v1h-1zm1 1h1v1h-1zm1 1h1v1h-1zm1 1h2v1h-2zm2 1h2v1h-2zm2 1h2v1h-2zm2 1h2v1h-2zm2 1h2v1h-2zm2 1h1v1h-1zm1 1h2v1h-2zm2 1h2v1h-2zm2 1h1v1h-1zm1 1h1v1h-1zm1 1h1v1h-1zm1 1h1v1h-1zm1 1h1v2h-1zm1 2h1v1h-1zm1 1h1v1h-1zm1 1h1v1h-1zm1 1h1v1h-1zm1 1h1v1h-1zm1 1h1v2h-1zm1 2h1v1h-1zm1 1h1v1h-1zm1 1h1v1h-1zm1 1h1v2h-1zm1 2h1v1h-1zm1 1h1v2h-1zm1 2h1v2h-1zm1 2h1v3h-1zm1 3h1v3h-1zm1 3h1v2h-1zm1 2h1v3h-1zm1 3h1v3h-1zm1 3h1v2h-1zm1 2h1v3h-1zm1 3h1v2h-1zm1 2h1v2h-1zm1 2h1v3h-1zm1 3h1v2h-1zm1 2h1v3h-1zm1 3h1v2h-1zm1 2h1v2h-1zm1 2h1v2h-1zm1 2h1v1h-1zm1 1h1v1h-1zm1 1h1v1h-1zm1 1h1v2h-1zm1 2h1v1h-1zm1 1h1v1h-1zm1 1h1v1h-1zm1 1h1v1h-1zm1 1h2v1h-2zm2 1h2v1h-2zm2 1h2v1h-2zm2 1h2v1h-2zm2 1h2v1h-2zm2 1h2v1h-2zm2 1h2v1h-2zm2 1h2v1h-2zm2 1h2v1h-2zm2 1h2v1h-2zm2 1h2v1h-2zm2 1h10v1h-10zm10-1h2v1h-2zm2-1h2v1h-2zm2-1h2v1h-2zm2-1h2v1h-2zm2-1h1v1h-1zm1-1h1v1h-1zm1-1h1v1h-1zm1-1h1v1h-1zm1-1h1v1h-1zm1-1h1v1h-1zm1-1h1v1h-1zm1-1h1v1h-1zm1-1h1v1h-1zm1-1h2v1h-2zm2-1h1v1h-1zm1-1h1v1h-1zm1-1h2v1h-2zm2-1h1v1h-1zm1-1h1v1h-1zm1-1h1v1h-1zm1-1h1v1h-1zm1-2h1v2h-1zm1-1h1v1h-1zm1-1h1v1h-1zm1-1h1v1h-1zm1-1h2v1h-2zm2-1h2v1h-2zm2-1h3v1h-3zm3-1h2v1h-2zm2-1h1v1h-1zm1-1h1v1h-1zm1-1h1v1h-1zm1-2h1v2h-1zm1-1h1v1h-1zm1-1h1v1h-1zm1-1h1v1h-1zm1-1h2v1h-2zm2-1h4v1h-4zm4-1h4v1h-4zm4-1h4v1h-4zm4-1h6v1h-6zm6 1h5v1h-5zm5-1h1v1h-1zm1-1h2v1h-2zm2-1h1v1h-1zm1-1h1v1h-1zm1-1h2v1h-2zm2-1h1v1h-1zm1-1h2v1h-2zm2-1h2v1h-2zm2-1h2v1h-2zm2-1h5v1h-5zm5 1h5v1h-5zm5 1h1v1h-1zm1 1h1v1h-1zm1 1h1v1h-1zm1 1h2v1h-2zm2 1h1v1h-1zm1 1h1v1h-1zm1 1h9v1h-9zm9-1h2v1h-2zm2-1h2v1h-2zm2-1h2v1h-2zm2-1h3v1h-3zm3-1h2v1h-2zm2-1h3v1h-3zm3-1h2v1h-2zm2 1h1v1h-1zm1 1h1v1h-1zm1 1h1v1h-1zm1 1h2v1h-2zm2 1h1v1h-1zm1 1h1v1h-1zm1 1h2v1h-2zm2 1h2v1h-2zm2 1h3v1h-3zm3 1h3v1h-3zm3-1h2v1h-2zm2-1h3v1h-3zm3-1h3v1h-3zm3-1h2v1h-2zm2-1h3v1h-3zm3-1h13v1h-13zm13-1h6v1h-6zm6-1h2v1h-2zm2-1h3v1h-3zm3-1h2v1h-2zm2-2h1v2h-1zm1-2h1v2h-1zm1-2h1v2h-1zm1-2h1v2h-1zm1-2h1v2h-1zm1-2h1v2h-1zm1-2h1v2h-1zm1-1h4v1h-4zm4-1h5v1h-5zm5-1h1v1h-1zm1-1h1v1h-1zm1-1h1v1h-1zm1-2h1v2h-1zm1-1h1v1h-1zm1-1h1v1h-1zm1-1h1v1h-1zm1-1h1v1h-1zm1-1h1v1h-1zm1-2h1v2h-1zm1-1h1v1h-1zm1-1h1v1h-1zm1-1h1v1h-1zm1-2h1v2h-1zm1-1h1v1h-1zm1-1h1v1h-1zm1-1h1v1h-1zm1-2h1v2h-1zm1-1h1v1h-1zm1-1h1v1h-1zm1-1h1v1h-1zm1-2h1v2h-1zm1-1h1v1h-1zm1-1h1v1h-1zm1-1h2v1h-2zm2-1h1v1h-1zm1-1h2v1h-2zm2-1h2v1h-2zm2-1h1v1h-1zm1-1h2v1h-2zm2-1h1v1h-1zm1-1h2v1h-2zm2-1h2v1h-2zm2-1h2v1h-2zm2 1h4v1h-4zm4 1h4v1h-4zm4-1h2v1h-2zm2-1h3v1h-3zm3-1h2v1h-2zm2 1h2v1h-2zm2 1h2v1h-2zm2 1h2v1h-2zm2 1h2v1h-2zm2 1h1v2h-1zm1 2h1v1h-1zm1 1h1v1h-1zm1 1h1v2h-1zm1 2h1v1h-1zm1 1h1v1h-1zm1 1h1v2h-1zm1 2h1v2h-1zm1 2h1v2h-1zm1 2h1v2h-1zm1 2h1v3h-1zm1 3h1v2h-1zm1 2h1v3h-1zm1 3h1v2h-1zm1 2h1v2h-1zm1 2h1v3h-1zm1 3h1v2h-1zm1 2h1v3h-1zm1 3h1v3h-1zm1 3h1v2h-1zm1 2h1v3h-1zm1 3h1v3h-1zm1 3h1v2h-1zm1 2h1v3h-1zm1 3h1v2h-1zm1 2h1v2h-1zm1 2h1v2h-1zm1 2h1v3h-1zm1 3h1v2h-1zm1 2h1v2h-1zm1 2h1v2h-1zm1 2h1v3h-1zm1 3h1v2h-1zm1 2h1v2h-1zm1 2h1v2h-1zm1 2h1v2h-1zm1 2h1v2h-1zm1 2h1v2h-1zm1 2h1v2h-1zm1 2h1v2h-1zm1 2h1v2h-1zm1 2h1v1h-1zm1 1h1v2h-1zm1 2h1v1h-1zm1 1h1v2h-1zm1 2h1v1h-1zm1 1h1v2h-1zm1 2h1v1h-1zm1 1h1v2h-1zm1 2h1v2h-1zm1 2h1v1h-1zm1 1h1v2h-1zm1 2h1v1h-1zm1 1h1v2h-1zm1 2h1v2h-1zm1 2h1v1h-1zm1 1h1v1h-1zm1 1h1v1h-1zm1 1h1v1h-1zm1 1h1v2h-1zm1 2h1v1h-1zm1 1h1v1h-1zm1 1h1v1h-1zm1 1h2v1h-2zm2 1h2v1h-2zm2 1h3v1h-3zm3 1h5v1h-5zm5 1h5v1h-5zm5 1h1v1h-1zm1 1h1v1h-1zm1 1h1v1h-1zm1 1h1v2h-1zm1 2h1v1h-1zm1 1h1v1h-1zm1 1h1v1h-1zm1 1h1v1h-1zm1 1h1v1h-1zm1 1h1v1h-1zm1 1h1v1h-1zm1 1h2v1h-2zm2 1h1v1h-1zm1 1h1v1h-1zm1 1h1v1h-1zm1 1h1v1h-1zm1 1h2v1h-2zm2 1h1v1h-1zm1 1h1v1h-1zm1 1h2v1h-2zm2 1h1v1h-1zm1 1h1v1h-1zm1 1h1v1h-1zm1 1h1v1h-1zm1 1h1v1h-1zm1 1h1v1h-1zm1 1h1v1h-1zm1 1h1v1h-1zm1 1h2v1h-2zm2 1h2v1h-2zm2 1h3v1h-3zm3 1h3v1h-3zm3 1h4v1h-4zm4 1h4v1h-4zm4 1h2v1h-2zm2 1h3v1h-3zm3 1h3v1h-3zm3 1h2v1h-2zm2 1h3v1h-3zm3 1h2v1h-2zm2 1h1v1h-1zm1 1h2v1h-2zm2 1h1v1h-1zm1 1h1v1h-1zm1 1h2v1h-2zm2 1h1v1h-1zm1 1h1v2h-1zm1 2h1v2h-1zm1 2h1v2h-1zm1 2h1v1h-1zm1 1h1v2h-1zm1 2h1v2h-1zm1 2h1v2h-1zm1 2h1v1h-1zm1 1h1v2h-1zm1 2h1v2h-1zm1 2h1v1h-1zm1 1h1v2h-1zm1 2h1v1h-1zm1 1h1v2h-1zm1 2h1v2h-1zm1 2h1v1h-1zm1 1h1v2h-1zm1 2h1v1h-1zm1 1h1v1h-1zm1 1h1v2h-1zm1 2h1v1h-1zm1 1h1v1h-1zm1 1h1v2h-1zm1 2h1v1h-1z"/>
<rect x="634" y="321" width="564" height="6" fill="#f5393c"/>
<rect x="631" y="399" width="566" height="6" fill="#99cc00"/>
<path d="M1128 29h10l-5 5.5z" fill="#c0c0c0" shape-rendering="auto"/>
</svg>
<svg x="2" y="570" width="1415" height="103" viewBox="2 570 1415 103" overflow="hidden">
<g shape-rendering="auto" text-rendering="geometricPrecision" stroke="#000" stroke-width="0.3" paint-order="stroke"><text x="7" y="582" textLength="64.3" lengthAdjust="spacingAndGlyphs">MACD(12,26,9)</text><text x="76" y="582" textLength="39.7" lengthAdjust="spacingAndGlyphs">-0.004622</text><text x="119.8" y="582" textLength="40" lengthAdjust="spacingAndGlyphs">-0.003697</text></g>
<path fill="#c0c0c0" d="M2 580h1v29h-1zM10 584h1v25h-1zM18 592h1v17h-1zM26 601h1v8h-1zM34 607h1v2h-1zM42 608h1v1h-1zM50 608h1v3h-1zM58 608h1v4h-1zM66 608h1v9h-1zM74 608h1v12h-1zM82 608h1v15h-1zM90 608h1v16h-1zM98 608h1v23h-1zM106 608h1v27h-1zM114 608h1v36h-1zM122 608h1v43h-1zM130 608h1v48h-1zM138 608h1v51h-1zM146 608h1v51h-1zM154 608h1v53h-1zM162 608h1v53h-1zM170 608h1v53h-1zM178 608h1v53h-1zM186 608h1v53h-1zM194 608h1v60h-1zM202 608h1v59h-1zM210 608h1v48h-1zM218 608h1v39h-1zM226 608h1v30h-1zM234 608h1v20h-1zM242 608h1v12h-1zM250 608h1v4h-1zM258 606h1v3h-1zM266 600h1v9h-1zM274 596h1v13h-1zM282 592h1v17h-1zM290 593h1v16h-1zM298 591h1v18h-1zM306 593h1v16h-1zM314 594h1v15h-1zM322 596h1v13h-1zM330 600h1v9h-1zM338 602h1v7h-1zM346 607h1v2h-1zM354 605h1v4h-1zM362 603h1v6h-1zM370 603h1v6h-1zM378 603h1v6h-1zM386 596h1v13h-1zM394 589h1v20h-1zM402 585h1v24h-1zM410 583h1v26h-1zM418 584h1v25h-1zM426 583h1v26h-1zM434 593h1v16h-1zM442 603h1v6h-1zM450 608h1v1h-1zM458 608h1v7h-1zM466 608h1v14h-1zM474 608h1v16h-1zM482 608h1v18h-1zM490 608h1v19h-1zM498 608h1v16h-1zM506 608h1v14h-1zM514 608h1v14h-1zM522 608h1v9h-1zM530 608h1v5h-1zM538 608h1v8h-1zM546 608h1v7h-1zM554 608h1v5h-1zM562 608h1v2h-1zM570 607h1v2h-1zM578 607h1v2h-1zM586 608h1v2h-1zM594 608h1v8h-1zM602 608h1v10h-1zM610 608h1v12h-1zM618 608h1v14h-1zM626 608h1v20h-1zM634 608h1v25h-1zM642 608h1v27h-1zM650 608h1v29h-1zM658 608h1v27h-1zM666 608h1v26h-1zM674 608h1v24h-1zM682 608h1v22h-1zM690 608h1v20h-1zM698 608h1v18h-1zM706 608h1v15h-1zM714 608h1v13h-1zM722 608h1v8h-1zM730 608h1v6h-1zM738 608h1v6h-1zM746 608h1v7h-1zM754 608h1v4h-1zM762 608h1v1h-1zM770 608h1v2h-1zM778 608h1v3h-1zM786 608h1v2h-1zM794 608h1v1h-1zM802 608h1v1h-1zM810 608h1v3h-1zM818 608h1v2h-1zM826 608h1v1h-1zM834 608h1v1h-1zM842 608h1v1h-1zM850 607h1v2h-1zM858 605h1v4h-1zM866 601h1v8h-1zM874 601h1v8h-1zM882 597h1v12h-1zM890 594h1v15h-1zM898 592h1v17h-1zM906 591h1v18h-1zM914 590h1v19h-1zM922 592h1v17h-1zM930 593h1v16h-1zM938 595h1v14h-1zM946 600h1v9h-1zM954 608h1v2h-1zM962 608h1v10h-1zM970 608h1v14h-1zM978 608h1v17h-1zM986 608h1v19h-1zM994 608h1v20h-1zM1002 608h1v23h-1zM1010 608h1v27h-1zM1018 608h1v29h-1zM1026 608h1v33h-1zM1034 608h1v34h-1zM1042 608h1v33h-1zM1050 608h1v34h-1zM1058 608h1v34h-1zM1066 608h1v33h-1zM1074 608h1v33h-1zM1082 608h1v36h-1zM1090 608h1v38h-1zM1098 608h1v40h-1zM1106 608h1v44h-1zM1114 608h1v47h-1z"/>
<path fill="#ff0000" d="m2 579h3v1h-3zm6 1h3v1h-3zm6 0h3v1h-3zm6 0h2v1h-2zm2 1h1v1h-1zm4 0h3v1h-3zm6 1h3v1h-3zm6 2h1v1h-1zm1 1h2v1h-2zm5 2h1v1h-1zm1 1h2v1h-2zm5 2h1v1h-1zm1 1h2v1h-2zm5 3h2v1h-2zm2 1h1v1h-1zm4 3h2v1h-2zm2 1h1v1h-1zm4 3h2v1h-2zm2 1h1v1h-1zm4 3h2v1h-2zm2 1h1v1h-1zm4 1h1v1h-1zm1 1h2v1h-2zm5 3h1v1h-1zm1 1h1v1h-1zm1 1h1v1h-1zm4 2h3v1h-3zm6 1h1v1h-1zm1 1h2v1h-2zm5 2h1v1h-1zm1 1h2v1h-2zm5 2h1v1h-1zm1 1h2v1h-2zm5 2h1v1h-1zm1 1h1v1h-1zm1 1h1v1h-1zm4 2h2v1h-2zm2 1h1v1h-1zm4 1h1v1h-1zm1 1h2v1h-2zm5 3h2v1h-2zm2 1h1v1h-1zm4 2h1v1h-1zm1 1h1v1h-1zm1 1h1v1h-1zm4 2h2v1h-2zm2 1h1v1h-1zm4 1h1v1h-1zm1 1h2v1h-2zm5 3h1v1h-1zm1 1h1v1h-1zm1 1h1v1h-1zm4 2h3v1h-3zm6 1h1v1h-1zm1 1h2v1h-2zm5 2h1v1h-1zm1 1h2v1h-2zm5 1h3v1h-3zm6 1h3v1h-3zm6 1h3v1h-3zm6 0h3v1h-3zm6-1h3v1h-3zm6 0h2v1h-2zm2-1h1v1h-1zm4 0h3v1h-3zm6-1h3v1h-3zm6-3h2v1h-2zm2-1h1v1h-1zm4-2h1v1h-1zm1-1h1v1h-1zm1-1h1v1h-1zm4-2h1v1h-1zm1-1h2v1h-2zm5-3h2v1h-2zm2-1h1v1h-1zm4-4h2v1h-2zm2-1h1v1h-1zm4-4h1v1h-1zm1-1h1v1h-1zm1-1h1v1h-1zm4-3h1v1h-1zm1-1h1v1h-1zm1-1h1v1h-1zm4-4h1v1h-1zm1-1h1v1h-1zm1-1h1v1h-1zm4-4h2v1h-2zm2-1h1v1h-1zm4-4h1v1h-1zm1-1h1v1h-1zm1-1h1v1h-1zm4-3h2v1h-2zm2-1h1v1h-1zm4-1h1v1h-1zm1-1h2v1h-2zm5-2h1v1h-1zm1-1h2v1h-2zm5-2h2v1h-2zm2-1h1v1h-1zm4-1h2v1h-2zm2-1h1v1h-1zm4-1h3v1h-3zm6-1h3v1h-3zm6 0h3v1h-3zm6 0h3v1h-3zm6 1h3v1h-3zm6 1h3v1h-3zm6 1h3v1h-3zm6 1h3v1h-3zm6 1h3v1h-3zm6 1h3v1h-3zm6 0h3v1h-3zm6 0h3v1h-3zm6 0h3v1h-3zm6-1h2v1h-2zm2-1h1v1h-1zm4-1h3v1h-3zm6-1h2v1h-2zm2-1h1v1h-1zm4-1h1v1h-1zm1-1h2v1h-2zm5-1h2v1h-2zm2-1h1v1h-1zm4 0h2v1h-2zm2-1h1v1h-1zm4 0h3v1h-3zm6 0h3v1h-3zm6 1h3v1h-3zm6 1h3v1h-3zm6 1h1v1h-1zm1 1h2v1h-2zm5 2h1v1h-1zm1 1h2v1h-2zm5 2h1v1h-1zm1 1h2v1h-2zm5 2h1v1h-1zm1 1h2v1h-2zm5 2h1v1h-1zm1 1h2v1h-2zm5 3h2v1h-2zm2 1h1v1h-1zm4 4h2v1h-2zm2 1h1v1h-1zm4 3h3v1h-3zm6 1h3v1h-3zm6 1h3v1h-3zm6 1h2v1h-2zm2 1h1v1h-1zm4 0h3v1h-3zm6 0h3v1h-3zm6-1h3v1h-3zm6-1h3v1h-3zm6-1h3v1h-3zm6-1h2v1h-2zm2-1h1v1h-1zm4-1h3v1h-3zm6-1h3v1h-3zm6-1h3v1h-3zm6-1h3v1h-3zm6-1h3v1h-3zm6 1h3v1h-3zm6 0h3v1h-3zm6 0h3v1h-3zm6 0h3v1h-3zm6 1h3v1h-3zm6 0h2v1h-2zm2 1h1v1h-1zm4 0h2v1h-2zm2 1h1v1h-1zm4 1h1v1h-1zm1 1h2v1h-2zm5 2h3v1h-3zm6 2h2v1h-2zm2 1h1v1h-1zm4 1h2v1h-2zm2 1h1v1h-1zm4 1h1v1h-1zm1 1h2v1h-2zm5 1h2v1h-2zm2 1h1v1h-1zm4 1h3v1h-3zm6 1h3v1h-3zm6 1h3v1h-3zm6 0h3v1h-3zm6 0h3v1h-3zm6 0h3v1h-3zm6-1h3v1h-3zm6-2h3v1h-3zm6-2h3v1h-3zm6-1h2v1h-2zm2-1h1v1h-1zm4-1h3v1h-3zm6-1h3v1h-3zm6-1h2v1h-2zm2-1h1v1h-1zm4-1h3v1h-3zm6-1h3v1h-3zm6-1h2v1h-2zm2-1h1v1h-1zm4-1h3v1h-3zm6-1h2v1h-2zm2-1h1v1h-1zm4-1h3v1h-3zm6-1h3v1h-3zm6 0h2v1h-2zm2-1h1v1h-1zm4 0h3v1h-3zm6-1h3v1h-3zm6 0h3v1h-3zm6 0h3v1h-3zm6 0h3v1h-3zm6-1h3v1h-3zm6 0h3v1h-3zm6 0h3v1h-3zm6 0h3v1h-3zm6 0h3v1h-3zm6-1h3v1h-3zm6 0h2v1h-2zm2-1h1v1h-1zm4 0h2v1h-2zm2-1h1v1h-1zm4-1h3v1h-3zm6-1h2v1h-2zm2-1h1v1h-1zm4 0h2v1h-2zm2-1h1v1h-1zm4 0h3v1h-3zm6-1h3v1h-3zm6-1h2v1h-2zm2-1h1v1h-1zm4-1h3v1h-3zm6-1h2v1h-2zm2-1h1v1h-1zm4-1h3v1h-3zm6-1h2v1h-2zm2-1h1v1h-1zm4 0h3v1h-3zm6 0h3v1h-3zm6 0h3v1h-3zm6 1h3v1h-3zm6 1h2v1h-2zm2 1h1v1h-1zm4 1h1v1h-1zm1 1h2v1h-2zm5 2h1v1h-1zm1 1h2v1h-2zm5 2h1v1h-1zm1 1h2v1h-2zm5 2h1v1h-1zm1 1h2v1h-2zm5 2h1v1h-1zm1 1h2v1h-2zm5 2h1v1h-1zm1 1h2v1h-2zm5 2h1v1h-1zm1 1h2v1h-2zm5 2h1v1h-1zm1 1h2v1h-2zm5 2h1v1h-1zm1 1h2v1h-2zm5 2h1v1h-1zm1 1h2v1h-2zm5 3h2v1h-2zm2 1h1v1h-1zm4 2h3v1h-3zm6 1h2v1h-2zm2 1h1v1h-1zm4 1h3v1h-3zm6 1h2v1h-2zm2 1h1v1h-1zm4 1h3v1h-3zm6 1h3v1h-3zm6 1h3v1h-3zm6 1h3v1h-3zm6 0h2v1h-2zm2 1h1v1h-1zm4 0h3v1h-3zm6 1h3v1h-3zm6 1h3v1h-3zm6 0h2v1h-2zm2 1h1v1h-1zm4 0h2v1h-2zm2 1h1v1h-1zm4 1h3v1h-3z"/>
</svg>
<svg x="2" y="676" width="1415" height="129" viewBox="2 676 1415 129" overflow="hidden">
<line x1="3" y1="715.5" x2="1417" y2="715.5" stroke="#c0c0c0" stroke-dasharray="3 3"/>
<line x1="3" y1="766.5" x2="1417" y2="766.5" stroke="#c0c0c0" stroke-dasharray="3 3"/>
<path fill="#1e90ff" d="m2 739h1v1h-1zm1 1h2v1h-2zm2 1h2v1h-2zm2 1h2v1h-2zm2 1h2v1h-2zm2 1h2v1h-2zm2 1h2v1h-2zm2 1h2v1h-2zm2 1h2v1h-2zm2 1h2v1h-2zm2 1h2v1h-2zm2 1h2v1h-2zm2 1h5v1h-5zm5-1h5v1h-5zm5-1h2v1h-2zm2-1h2v1h-2zm2-1h2v1h-2zm2-1h5v1h-5zm5-1h8v1h-8zm8-1h5v1h-5zm5 1h1v1h-1zm1 1h1v1h-1zm1 1h1v1h-1zm1 1h2v1h-2zm2 1h1v1h-1zm1 1h1v1h-1zm1 1h18v1h-18zm18-1h2v1h-2zm2-1h3v1h-3zm3-1h2v1h-2zm2 1h1v2h-1zm1 2h1v1h-1zm1 1h1v2h-1zm1 2h1v1h-1zm1 1h1v2h-1zm1 2h1v1h-1zm1 1h1v2h-1zm1 2h4v1h-4zm4-1h5v1h-5zm5 1h1v1h-1zm1 1h1v1h-1zm1 1h1v1h-1zm1 1h1v1h-1zm1 1h1v1h-1zm1 1h1v1h-1zm1 1h1v1h-1zm1 1h4v1h-4zm4-1h8v1h-8zm8 1h6v1h-6zm6-1h4v1h-4zm4-1h3v1h-3zm3-1h1v1h-1zm1-1h1v1h-1zm1-1h1v1h-1zm1-1h2v1h-2zm2-1h1v1h-1zm1-1h1v1h-1zm1-1h1v1h-1zm1 1h2v1h-2zm2 1h1v1h-1zm1 1h2v1h-2zm2 1h2v1h-2zm2 1h2v1h-2zm2-1h2v1h-2zm2-1h3v1h-3zm3-1h5v1h-5zm5 1h14v1h-14zm14-1h2v1h-2zm2-1h3v1h-3zm3-1h2v1h-2zm2 1h1v2h-1zm1 2h1v2h-1zm1 2h1v2h-1zm1 2h1v2h-1zm1 2h1v2h-1zm1 2h1v2h-1zm1 2h1v1h-1zm0 1h2v1h-2zm1 1h1v1h-1zm1-3h1v2h-1zm1-2h1v2h-1zm1-2h1v2h-1zm1-3h1v3h-1zm1-2h1v2h-1zm1-2h1v2h-1zm1-2h1v2h-1zm1-2h1v2h-1zm1-2h1v2h-1zm1-2h1v2h-1zm1-2h1v2h-1zm1-2h1v2h-1zm1-2h1v2h-1zm1-2h1v2h-1zm1-2h1v2h-1zm1-2h4v1h-4zm0 1h1v1h-1zm4-2h6v1h-6zm6-1h2v1h-2zm2-1h3v1h-3zm3-1h3v1h-3zm3-1h4v1h-4zm4-1h6v1h-6zm6-1h6v1h-6zm6-1h4v1h-4zm4-1h4v1h-4zm4-1h4v1h-4zm4-1h6v1h-6zm6 1h16v1h-16zm16-1h5v1h-5zm5 1h1v1h-1zm1 1h1v1h-1zm1 1h1v1h-1zm1 1h2v1h-2zm2 1h1v1h-1zm1 1h1v1h-1zm1 1h2v1h-2zm2-1h2v1h-2zm2-1h3v1h-3zm3-1h2v1h-2zm2 1h2v1h-2zm2 1h1v1h-1zm1 1h2v1h-2zm2 1h2v1h-2zm2 1h4v1h-4zm4 1h8v1h-8zm8 1h5v1h-5zm5 1h1v1h-1zm1 1h1v1h-1zm1 1h1v1h-1zm1 1h2v1h-2zm2 1h1v1h-1zm1 1h1v1h-1zm1 1h1v1h-1zm1-1h2v1h-2zm2-1h1v1h-1zm1-1h2v1h-2zm2-1h2v1h-2zm2-1h1v1h-1zm1 1h1v1h-1zm1 1h1v1h-1zm1 1h1v1h-1zm1 1h1v2h-1zm1 2h1v1h-1zm1 1h1v1h-1zm1 1h1v1h-1zm1 1h1v1h-1zm1-2h1v2h-1zm1-2h1v2h-1zm1-2h1v2h-1zm1-2h1v2h-1zm1-2h1v2h-1zm1-2h1v2h-1zm1-2h1v2h-1zm1-1h10v1h-10zm10 1h2v1h-2zm2 1h3v1h-3zm3 1h5v1h-5zm5 1h5v1h-5zm5-2h1v2h-1zm1-2h1v2h-1zm1-2h1v2h-1zm1-1h1v1h-1zm1-2h1v2h-1zm1-2h1v2h-1zm1-2h1v2h-1zm1-1h2v1h-2zm2-1h4v1h-4zm4-1h3v1h-3zm3 1h2v1h-2zm2 1h2v1h-2zm2 1h2v1h-2zm2 1h5v1h-5zm5 1h5v1h-5zm5 1h1v1h-1zm1 1h1v1h-1zm1 1h1v1h-1zm1 1h2v1h-2zm2 1h1v1h-1zm1 1h1v1h-1zm1 1h1v1h-1zm1-1h2v1h-2zm2-1h1v1h-1zm1-1h2v1h-2zm2-1h3v1h-3zm2-1h1v1h-1zm1 2h1v2h-1zm1 2h1v3h-1zm1 3h1v2h-1zm1 2h1v3h-1zm1 3h1v2h-1zm1 2h1v3h-1zm1 3h1v2h-1zm1 2h1v1h-1zm0 1h2v1h-2zm2 1h4v1h-4zm4 1h6v1h-6zm6 1h6v1h-6zm6-1h2v1h-2zm2-1h3v1h-3zm3-1h2v1h-2zm2 1h2v1h-2zm2 1h1v1h-1zm1 1h2v1h-2zm2 1h2v1h-2zm2 1h1v1h-1zm1-1h1v1h-1zm1-1h1v1h-1zm1-1h1v1h-1zm1-1h2v1h-2zm2-1h1v1h-1zm1-1h1v1h-1zm1-1h4v1h-4zm4 1h6v1h-6zm6-1h4v1h-4zm4-1h3v1h-3zm3-1h1v1h-1zm1-1h2v1h-2zm2-1h1v1h-1zm1-1h1v1h-1zm1-1h2v1h-2zm2-1h4v1h-4zm4-1h6v1h-6zm6 1h2v1h-2zm2 1h3v1h-3zm3 1h2v1h-2zm2-1h1v1h-1zm1-1h1v1h-1zm1-1h1v1h-1zm1-1h2v1h-2zm2-1h1v1h-1zm1-1h1v1h-1zm1-1h9v1h-9zm9 1h1v2h-1zm1 2h1v1h-1zm1 1h1v1h-1zm1 1h1v2h-1zm1 2h1v1h-1zm1 1h1v1h-1zm1 1h1v2h-1zm1 2h1v1h-1zm1-1h2v1h-2zm2-1h1v1h-1zm1-1h2v1h-2zm2-1h2v1h-2zm2-1h1v1h-1zm1-1h2v1h-2zm2-1h2v1h-2zm2-1h2v1h-2zm2-1h3v1h-3zm3-1h4v1h-4zm4-1h3v1h-3zm3-1h2v1h-2zm2-1h2v1h-2zm2-1h2v1h-2zm2-1h2v1h-2zm2 1h1v1h-1zm1 1h1v1h-1zm1 1h1v1h-1zm1 1h1v2h-1zm1 2h1v1h-1zm1 1h1v1h-1zm1 1h1v1h-1zm1 1h1v1h-1zm1 1h1v1h-1zm1 1h1v1h-1zm1 1h1v1h-1zm1 1h2v1h-2zm2 1h1v1h-1zm1 1h1v1h-1zm1 1h1v1h-1zm1 1h2v1h-2zm2 1h2v1h-2zm2 1h2v1h-2zm2 1h2v1h-2zm2-1h2v1h-2zm2-1h1v1h-1zm1-1h2v1h-2zm2-1h2v1h-2zm2-1h4v1h-4zm4 1h8v1h-8zm8 1h5v1h-5zm5 1h1v1h-1zm1 1h1v1h-1zm1 1h1v1h-1zm1 1h1v1h-1zm1 1h1v1h-1zm1 1h1v1h-1zm1 1h1v1h-1zm1 1h4v1h-4zm4 1h5v1h-5zm5-1h1v1h-1zm1-1h2v1h-2zm2-1h1v1h-1zm1-1h1v1h-1zm1-1h2v1h-2zm2-1h2v1h-2zm2 1h4v1h-4zm4 1h3v1h-3zm3-1h1v1h-1zm1-1h1v1h-1zm1-1h1v1h-1zm1-1h2v1h-2zm2-1h1v1h-1zm1-1h1v1h-1zm1-1h4v1h-4zm4 1h5v1h-5zm5-1h2v1h-2zm2-1h1v1h-1zm1-1h2v1h-2zm2-1h2v1h-2zm2-1h1v1h-1zm1 1h2v1h-2zm2 1h2v1h-2zm2 1h2v1h-2zm2 1h2v1h-2zm2-1h2v1h-2zm2-1h2v1h-2zm2-1h2v1h-2zm2-1h11v1h-11zm11-1h2v1h-2zm2-1h3v1h-3zm3-1h3v1h-3zm3 1h4v1h-4zm4 1h3v1h-3zm3-1h1v1h-1zm1-1h1v1h-1zm1-1h1v1h-1zm1-2h1v2h-1zm1-1h1v1h-1zm1-1h1v1h-1zm1-1h1v1h-1zm1-1h1v1h-1zm1 1h1v1h-1zm1 1h2v1h-2zm2 1h1v1h-1zm1 1h1v1h-1zm1 1h2v1h-2zm2 1h1v1h-1zm1 1h2v1h-2zm2 1h1v1h-1zm1 1h2v1h-2zm2 1h2v1h-2zm2 1h9v1h-9zm9-1h1v1h-1zm1-1h1v1h-1zm1-1h1v1h-1zm1-1h2v1h-2zm2-1h1v1h-1zm1-1h1v1h-1zm1-1h1v1h-1zm1-1h2v1h-2zm2-1h2v1h-2zm2-1h2v1h-2zm2-1h2v1h-2zm2 1h1v2h-1zm1 2h1v1h-1zm1 1h1v1h-1zm1 1h1v2h-1zm1 2h1v1h-1zm1 1h1v1h-1zm1 1h1v2h-1zm1 2h9v1h-9zm9-1h2v1h-2zm2-1h2v1h-2zm2-1h2v1h-2zm2-1h3v1h-3zm3-1h4v1h-4zm4-1h11v1h-11zm11 1h1v2h-1zm1 2h1v1h-1zm1 1h1v1h-1zm1 1h1v2h-1zm1 2h1v1h-1zm1 1h1v1h-1zm1 1h1v2h-1zm1 2h1v1h-1zm1-2h1v2h-1zm1-1h1v1h-1zm1-2h1v2h-1zm1-1h1v1h-1zm1-2h1v2h-1zm1-1h1v1h-1zm1-2h1v2h-1zm1-1h2v1h-2zm2 1h4v1h-4zm4 1h6v1h-6zm6 1h13v1h-13zm13-1h2v1h-2zm2-1h2v1h-2zm2-1h2v1h-2zm2-1h5v1h-5zm5-1h5v1h-5zm5-1h1v1h-1zm1-1h1v1h-1zm1-1h1v1h-1zm1-1h1v1h-1zm1-1h1v1h-1zm1-1h1v1h-1zm1-1h1v1h-1zm1-1h1v1h-1zm1 1h1v1h-1zm1 1h1v2h-1zm1 2h1v1h-1zm1 1h1v1h-1zm1 1h1v1h-1zm1 1h1v2h-1zm1 2h1v1h-1zm1 1h1v1h-1zm1-1h1v1h-1zm1-1h1v1h-1zm1-1h1v1h-1zm1-1h1v1h-1zm1-1h1v1h-1zm1-1h1v1h-1zm1-1h1v1h-1zm1-1h18v1h-18zm18 1h4v1h-4zm4 1h4v1h-4zm4-1h4v1h-4zm4-1h3v1h-3zm3 1h1v1h-1zm1 1h1v1h-1zm1 1h1v1h-1zm1 1h2v1h-2zm2 1h1v1h-1zm1 1h1v1h-1zm1 1h9v1h-9zm9 1h2v1h-2zm2 1h2v1h-2zm2 1h2v1h-2zm2 1h2v1h-2zm2 1h1v1h-1zm1 1h1v1h-1zm1 1h1v1h-1zm1 1h1v1h-1zm1 1h1v1h-1zm1 1h1v1h-1zm1 1h1v1h-1zm1 1h1v1h-1zm1 1h1v2h-1zm1 2h1v2h-1zm1 2h1v2h-1zm1 2h1v1h-1zm1 1h1v2h-1zm1 2h1v2h-1zm1 2h1v2h-1zm1 2h4v1h-4zm4-1h5v1h-5zm5-1h1v1h-1zm1-1h2v1h-2zm2-1h1v1h-1zm1-1h1v1h-1zm1-1h2v1h-2zm2-1h4v1h-4zm4-1h6v1h-6zm6-1h2v1h-2zm2-1h3v1h-3zm3-1h5v1h-5zm5 1h5v1h-5zm5 1h1v1h-1zm1 1h2v1h-2zm2 1h1v1h-1zm1 1h1v1h-1zm1 1h2v1h-2zm2 1h1v1h-1zm1 1h2v1h-2zm2 1h2v1h-2zm2 1h2v1h-2zm2 1h2v1h-2zm2-1h1v1h-1zm1-1h1v1h-1zm1-1h1v1h-1zm1-1h2v1h-2zm2-1h1v1h-1zm1-1h1v1h-1zm1-1h1v1h-1zm1 1h1v1h-1zm1 1h1v1h-1zm1 1h1v1h-1zm1 1h2v1h-2zm2 1h1v1h-1zm1 1h1v1h-1zm1 1h1v1h-1zm1-1h2v1h-2zm2-1h1v1h-1zm1-1h2v1h-2zm2-1h2v1h-2zm2-1h1v1h-1zm1-1h2v1h-2zm2-1h2v1h-2zm2-1h2v1h-2zm2-1h3v1h-3zm3 1h4v1h-4zm4 1h6v1h-6zm6 1h6v1h-6zm6-1h2v1h-2zm2-1h3v1h-3zm3-1h3v1h-3zm3 1h2v1h-2zm2 1h3v1h-3zm3 1h2v1h-2zm2 1h1v1h-1zm1 1h2v1h-2zm2 1h1v1h-1zm1 1h1v1h-1zm1 1h2v1h-2zm2 1h2v1h-2zm2 1h4v1h-4zm4 1h4v1h-4zm4 1h4v1h-4zm4 1h3v1h-3zm3 1h2v1h-2zm2 1h2v1h-2zm2 1h2v1h-2zm2 1h5v1h-5zm5-1h5v1h-5z"/>
</svg>
<path fill="#000" d="M1 28h1417v1h-1417zM1 28h1v778h-1zM1417 28h1v778h-1zM1 567h1417v1h-1417zM1 569h1417v1h-1417zM1 673h1417v1h-1417zM1 675h1417v1h-1417zM1 805h1417v1h-1417zM1418 36h2v1h-2zM1418 69h2v1h-2zM1418 102h2v1h-2zM1418 135h2v1h-2zM1418 168h2v1h-2zM1418 201h2v1h-2zM1418 234h2v1h-2zM1418 267h2v1h-2zM1418 300h2v1h-2zM1418 333h2v1h-2zM1418 366h2v1h-2zM1418 399h2v1h-2zM1418 432h2v1h-2zM1418 465h2v1h-2zM1418 531h2v1h-2zM1418 564h2v1h-2zM1418 498h2v1h-2zM1418 571h1v1h-1zM1418 608h1v1h-1zM1418 672h1v1h-1zM1418 677h1v1h-1zM1418 804h1v1h-1zM2 806h1v3h-1zM66 806h1v3h-1zM130 806h1v3h-1zM194 806h1v3h-1zM258 806h1v3h-1zM322 806h1v3h-1zM386 806h1v3h-1zM450 806h1v3h-1zM514 806h1v3h-1zM578 806h1v3h-1zM642 806h1v3h-1zM706 806h1v3h-1zM770 806h1v3h-1zM834 806h1v3h-1zM898 806h1v3h-1zM962 806h1v3h-1zM1026 806h1v3h-1zM1090 806h1v3h-1z"/>
<rect x="1" y="568" width="1417" height="1" fill="#fff"/>
<rect x="1" y="674" width="1417" height="1" fill="#fff"/>
<g shape-rendering="auto" text-rendering="geometricPrecision" stroke="#000" stroke-width="0.3" paint-order="stroke"><text x="1423.2" y="40" textLength="32.6" lengthAdjust="spacingAndGlyphs">0.73750</text>
<text x="1423.2" y="73" textLength="32.6" lengthAdjust="spacingAndGlyphs">0.73400</text>
<text x="1423.2" y="106" textLength="32.6" lengthAdjust="spacingAndGlyphs">0.73060</text>
<text x="1423.2" y="139" textLength="32.6" lengthAdjust="spacingAndGlyphs">0.72710</text>
<text x="1423.2" y="172" textLength="32.6" lengthAdjust="spacingAndGlyphs">0.72370</text>
<text x="1423.2" y="205" textLength="32.6" lengthAdjust="spacingAndGlyphs">0.72020</text>
<text x="1423.2" y="238" textLength="32.6" lengthAdjust="spacingAndGlyphs">0.71670</text>
<text x="1423.2" y="271" textLength="32.6" lengthAdjust="spacingAndGlyphs">0.71330</text>
<text x="1423.2" y="304" textLength="32.6" lengthAdjust="spacingAndGlyphs">0.70980</text>
<text x="1423.2" y="337" textLength="32.6" lengthAdjust="spacingAndGlyphs">0.70630</text>
<text x="1423.2" y="370" textLength="32.6" lengthAdjust="spacingAndGlyphs">0.70290</text>
<text x="1423.2" y="403" textLength="32.6" lengthAdjust="spacingAndGlyphs">0.69940</text>
<text x="1423.2" y="436" textLength="32.6" lengthAdjust="spacingAndGlyphs">0.69590</text>
<text x="1423.2" y="469" textLength="32.6" lengthAdjust="spacingAndGlyphs">0.69250</text>
<text x="1423.2" y="535" textLength="32.6" lengthAdjust="spacingAndGlyphs">0.68550</text>
<text x="1423.2" y="568" textLength="32.6" lengthAdjust="spacingAndGlyphs">0.68210</text>
<text x="1423.2" y="502" textLength="32.6" lengthAdjust="spacingAndGlyphs">0.68900</text>
<rect x="1419" y="490" width="41" height="11" fill="#000" stroke="none" shape-rendering="crispEdges"/>
<text x="1423.2" y="499" textLength="32.6" lengthAdjust="spacingAndGlyphs" fill="#fff" stroke="#fff">0.68933</text>
<text x="1421" y="580" textLength="37.6" lengthAdjust="spacingAndGlyphs">0.003718</text>
<text x="1421" y="612" textLength="17.6" lengthAdjust="spacingAndGlyphs">0.00</text>
<text x="1421" y="670" textLength="41.1" lengthAdjust="spacingAndGlyphs">-0.006344</text>
<text x="1420.4" y="686" textLength="15.2" lengthAdjust="spacingAndGlyphs">100</text>
<text x="1420.1" y="719" textLength="9.6" lengthAdjust="spacingAndGlyphs">70</text>
<text x="1420.1" y="770" textLength="9.6" lengthAdjust="spacingAndGlyphs">30</text>
<text x="1420.8" y="802" textLength="5" lengthAdjust="spacingAndGlyphs">0</text>
<text x="1.2" y="818" textLength="46.4" lengthAdjust="spacingAndGlyphs">5 Dec 2018</text>
<text x="65.2" y="818" textLength="51.4" lengthAdjust="spacingAndGlyphs">14 Dec 2018</text>
<text x="129.2" y="818" textLength="51.4" lengthAdjust="spacingAndGlyphs">24 Dec 2018</text>
<text x="193.2" y="818" textLength="44.4" lengthAdjust="spacingAndGlyphs">2 Jan 2019</text>
<text x="257.2" y="818" textLength="49.4" lengthAdjust="spacingAndGlyphs">11 Jan 2019</text>
<text x="321.2" y="818" textLength="49.4" lengthAdjust="spacingAndGlyphs">21 Jan 2019</text>
<text x="385.2" y="818" textLength="49.4" lengthAdjust="spacingAndGlyphs">30 Jan 2019</text>
<text x="449.2" y="818" textLength="45.7" lengthAdjust="spacingAndGlyphs">8 Feb 2019</text>
<text x="513.2" y="818" textLength="50.7" lengthAdjust="spacingAndGlyphs">18 Feb 2019</text>
<text x="577.2" y="818" textLength="50.7" lengthAdjust="spacingAndGlyphs">27 Feb 2019</text>
<text x="641.2" y="818" textLength="47.4" lengthAdjust="spacingAndGlyphs">8 Mar 2019</text>
<text x="705.2" y="818" textLength="52.4" lengthAdjust="spacingAndGlyphs">18 Mar 2019</text>
<text x="769.2" y="818" textLength="52.4" lengthAdjust="spacingAndGlyphs">27 Mar 2019</text>
<text x="833.2" y="818" textLength="45.4" lengthAdjust="spacingAndGlyphs">5 Apr 2019</text>
<text x="897.2" y="818" textLength="50.4" lengthAdjust="spacingAndGlyphs">15 Apr 2019</text>
<text x="961.2" y="818" textLength="50.4" lengthAdjust="spacingAndGlyphs">25 Apr 2019</text>
<text x="1025.2" y="818" textLength="48.4" lengthAdjust="spacingAndGlyphs">5 May 2019</text>
<text x="1089.2" y="818" textLength="53.4" lengthAdjust="spacingAndGlyphs">14 May 2019</text>
<path d="M5 39l3.5 -4l3.5 4z" fill="#000" stroke="none"/>
<text x="17.9" y="40" textLength="67.8" lengthAdjust="spacingAndGlyphs">AUDUSD-,Daily</text>
<text x="92.2" y="40" textLength="32.2" lengthAdjust="spacingAndGlyphs">0.68919</text>
<text x="128.2" y="40" textLength="32.2" lengthAdjust="spacingAndGlyphs">0.68949</text>
<text x="164.2" y="40" textLength="32.2" lengthAdjust="spacingAndGlyphs">0.68841</text>
<text x="200.2" y="40" textLength="32.2" lengthAdjust="spacingAndGlyphs">0.68933</text>
<text x="6.4" y="688" textLength="30.4" lengthAdjust="spacingAndGlyphs">RSI(14)</text>
<text x="41.5" y="688" textLength="32" lengthAdjust="spacingAndGlyphs">27.5083</text></g>
</svg>
<div id="ocbg"></div>
<div id="oc">
<div class="pr" style="left:0;width:109px"><b style="left:19px;top:20px">0.68</b><span class="big" style="left:46px;top:1px">93</span><b style="left:87px;top:4px">3</b></div>
<div class="pr" style="left:111px;width:108px"><b style="left:18px;top:20px">0.68</b><span class="big" style="left:47px;top:1px">95</span><b style="left:86px;top:4px">2</b></div>
<div class="tab" style="left:0"><em>SELL</em><i></i></div>
<div class="tab" style="left:167px"><em style="transform:scaleX(0.96)">BUY</em><i></i></div>
<div class="sp"><div class="bt" style="left:0;border-right:1px solid #a8a8a8"><svg width="20" height="20" style="position:absolute;left:0;top:0"><path d="M7 8h5l-2.5 3z" fill="#4a5cc0"/></svg></div><div class="v">1.00</div><div class="bt" style="right:0;border-left:1px solid #a8a8a8"><svg width="20" height="20" style="position:absolute;left:0;top:0"><path d="M7 11h5l-2.5 -3z" fill="#4a5cc0"/></svg></div></div>
</div>
<div id="bt"><div class="g0"></div><div class="g1"></div><div class="bl"></div><div class="hl"></div><div class="wl"></div>
<div class="act"></div>
<div class="sp" style="left:327px"></div><div class="sp" style="left:435px"></div><div class="sp" style="left:547px"></div><div class="sp" style="left:667px"></div>
<svg width="700" height="25" style="position:absolute;left:0;top:0" font-family="'Liberation Sans', sans-serif" font-size="12.6px" fill="#6e6e6e">
<text x="14.3" y="17" textLength="85.2" lengthAdjust="spacingAndGlyphs">EURUSD-,Daily</text>
<text x="120.9" y="17" textLength="87.4" lengthAdjust="spacingAndGlyphs" fill="#000">AUDUSD-,Daily</text>
<text x="230.5" y="17" textLength="84.8" lengthAdjust="spacingAndGlyphs">USDCHF-,Daily</text>
<text x="337.7" y="17" textLength="86.4" lengthAdjust="spacingAndGlyphs">USDCAD-,Daily</text>
<text x="446.7" y="17" textLength="88.6" lengthAdjust="spacingAndGlyphs">USDCNH-,Daily</text>
<text x="557.4" y="17" textLength="97.8" lengthAdjust="spacingAndGlyphs">EURCHF-,Weekly</text>
</svg>
<svg width="40" height="20" style="position:absolute;left:1425px;top:2px"><path d="M11.3 6v6l-3.5 -3z" fill="#a0a0a0"/><path d="M27 6v6l3.5 -3z" fill="#a0a0a0"/></svg>
</div>
</body></html>
